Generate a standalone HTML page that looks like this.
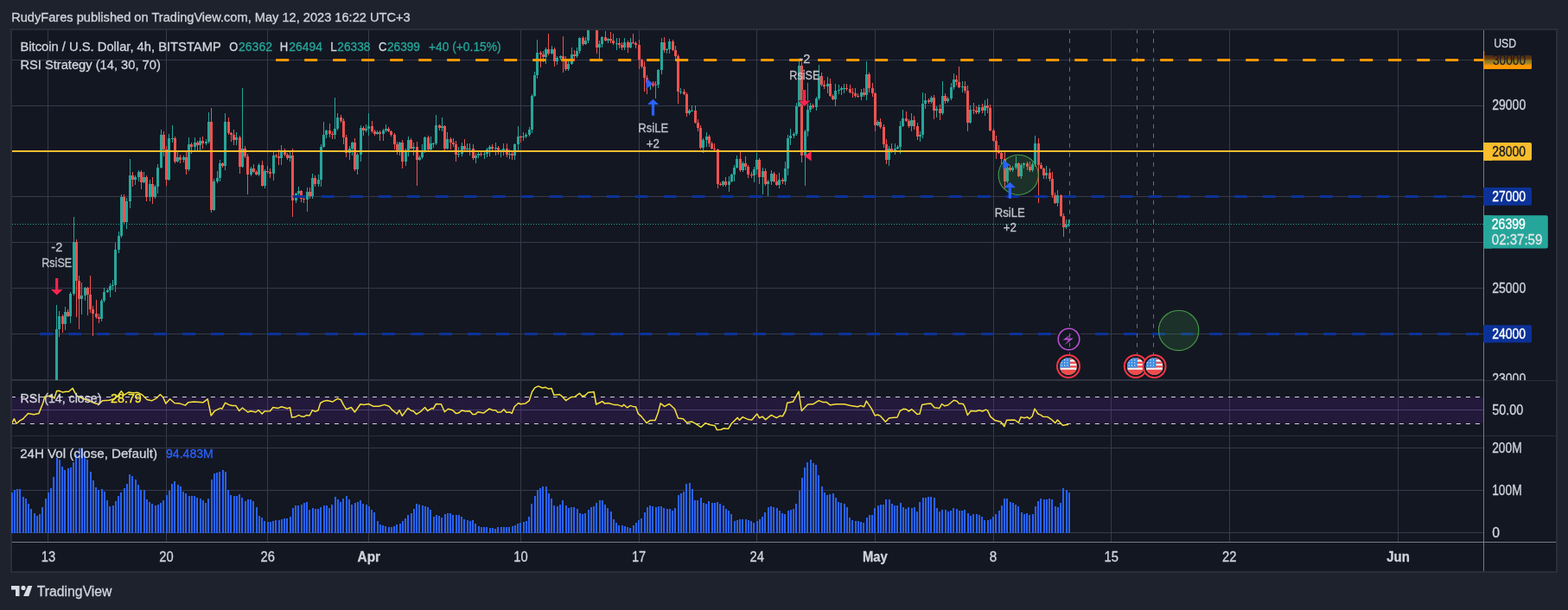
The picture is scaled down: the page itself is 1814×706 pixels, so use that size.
<!DOCTYPE html>
<html><head><meta charset="utf-8"><title>BTCUSD chart</title>
<style>html,body{margin:0;padding:0;background:#1e222d;}body{width:1814px;height:706px;overflow:hidden;}svg{display:block;}</style>
</head><body><svg width="1814" height="706" viewBox="0 0 1814 706" font-family="'Liberation Sans', Arial, sans-serif"><rect width="1814" height="706" fill="#1e222d"/><rect x="12" y="33" width="1790" height="630" fill="#2a2e39"/><rect x="14" y="35" width="1786" height="626" fill="#131722"/><text x="13.2" y="24.7" font-size="14.7" fill="#d1d4dc" text-anchor="start" font-weight="normal" textLength="461.5" lengthAdjust="spacingAndGlyphs" stroke="#d1d4dc" stroke-width="0.3">RudyFares published on TradingView.com, May 12, 2023 16:22 UTC+3</text><line x1="55.5" y1="35" x2="55.5" y2="627" stroke="#363a4a" stroke-width="1"/><line x1="192.5" y1="35" x2="192.5" y2="627" stroke="#363a4a" stroke-width="1"/><line x1="309.5" y1="35" x2="309.5" y2="627" stroke="#363a4a" stroke-width="1"/><line x1="426.5" y1="35" x2="426.5" y2="627" stroke="#363a4a" stroke-width="1"/><line x1="602.5" y1="35" x2="602.5" y2="627" stroke="#363a4a" stroke-width="1"/><line x1="739.5" y1="35" x2="739.5" y2="627" stroke="#363a4a" stroke-width="1"/><line x1="875.5" y1="35" x2="875.5" y2="627" stroke="#363a4a" stroke-width="1"/><line x1="1012.5" y1="35" x2="1012.5" y2="627" stroke="#363a4a" stroke-width="1"/><line x1="1149.5" y1="35" x2="1149.5" y2="627" stroke="#363a4a" stroke-width="1"/><line x1="1285.5" y1="35" x2="1285.5" y2="627" stroke="#363a4a" stroke-width="1"/><line x1="1422.5" y1="35" x2="1422.5" y2="627" stroke="#363a4a" stroke-width="1"/><line x1="1617.5" y1="35" x2="1617.5" y2="627" stroke="#363a4a" stroke-width="1"/><line x1="14" y1="69.5" x2="1716.5" y2="69.5" stroke="#363a4a" stroke-width="1"/><line x1="14" y1="122.5" x2="1716.5" y2="122.5" stroke="#363a4a" stroke-width="1"/><line x1="14" y1="175.5" x2="1716.5" y2="175.5" stroke="#363a4a" stroke-width="1"/><line x1="14" y1="227.5" x2="1716.5" y2="227.5" stroke="#363a4a" stroke-width="1"/><line x1="14" y1="280.5" x2="1716.5" y2="280.5" stroke="#363a4a" stroke-width="1"/><line x1="14" y1="333.5" x2="1716.5" y2="333.5" stroke="#363a4a" stroke-width="1"/><line x1="14" y1="386.5" x2="1716.5" y2="386.5" stroke="#363a4a" stroke-width="1"/><line x1="14" y1="439.5" x2="1716.5" y2="439.5" stroke="#363a4a" stroke-width="1"/><rect x="14" y="459.5" width="1702.5" height="30.5" fill="rgb(99,33,154)" fill-opacity="0.2"/><line x1="14" y1="518.5" x2="1716.5" y2="518.5" stroke="#363a4a" stroke-width="1"/><line x1="14" y1="567.5" x2="1716.5" y2="567.5" stroke="#363a4a" stroke-width="1"/><line x1="14" y1="616.5" x2="1716.5" y2="616.5" stroke="#363a4a" stroke-width="1"/><clipPath id="mp"><rect x="14" y="35" width="1702.5" height="405"/></clipPath><g clip-path="url(#mp)"><line x1="1237.5" y1="35" x2="1237.5" y2="410" stroke="#6a6d78" stroke-width="1" stroke-dasharray="5 6" stroke-dashoffset="1.2"/><line x1="1315.5" y1="35" x2="1315.5" y2="410" stroke="#6a6d78" stroke-width="1" stroke-dasharray="5 6" stroke-dashoffset="1.2"/><line x1="1334.5" y1="35" x2="1334.5" y2="410" stroke="#6a6d78" stroke-width="1" stroke-dasharray="5 6" stroke-dashoffset="1.2"/><rect x="65" y="353" width="1" height="109" fill="#26a69a"/><rect x="64" y="381" width="3" height="79" fill="#26a69a"/><rect x="68" y="360" width="1" height="30" fill="#26a69a"/><rect x="67" y="366" width="3" height="15" fill="#26a69a"/><rect x="72" y="364" width="1" height="21" fill="#ef5350"/><rect x="71" y="366" width="3" height="9" fill="#ef5350"/><rect x="75" y="355" width="1" height="27" fill="#26a69a"/><rect x="74" y="361" width="3" height="14" fill="#26a69a"/><rect x="78" y="358" width="1" height="9" fill="#ef5350"/><rect x="77" y="361" width="3" height="5" fill="#ef5350"/><rect x="81" y="338" width="1" height="36" fill="#26a69a"/><rect x="80" y="340" width="3" height="26" fill="#26a69a"/><rect x="85" y="251" width="1" height="91" fill="#26a69a"/><rect x="84" y="280" width="3" height="60" fill="#26a69a"/><rect x="88" y="277" width="1" height="90" fill="#ef5350"/><rect x="87" y="280" width="3" height="45" fill="#ef5350"/><rect x="91" y="319" width="1" height="62" fill="#ef5350"/><rect x="90" y="325" width="3" height="21" fill="#ef5350"/><rect x="94" y="327" width="1" height="37" fill="#26a69a"/><rect x="93" y="342" width="3" height="4" fill="#26a69a"/><rect x="98" y="332" width="1" height="16" fill="#26a69a"/><rect x="97" y="333" width="3" height="9" fill="#26a69a"/><rect x="101" y="332" width="1" height="33" fill="#ef5350"/><rect x="100" y="333" width="3" height="8" fill="#ef5350"/><rect x="104" y="319" width="1" height="43" fill="#ef5350"/><rect x="103" y="341" width="3" height="17" fill="#ef5350"/><rect x="107" y="354" width="1" height="35" fill="#ef5350"/><rect x="106" y="358" width="3" height="5" fill="#ef5350"/><rect x="111" y="347" width="1" height="22" fill="#ef5350"/><rect x="110" y="363" width="3" height="4" fill="#ef5350"/><rect x="114" y="363" width="1" height="11" fill="#ef5350"/><rect x="113" y="367" width="3" height="2" fill="#ef5350"/><rect x="117" y="346" width="1" height="26" fill="#26a69a"/><rect x="116" y="348" width="3" height="21" fill="#26a69a"/><rect x="120" y="333" width="1" height="17" fill="#26a69a"/><rect x="119" y="338" width="3" height="10" fill="#26a69a"/><rect x="124" y="334" width="1" height="5" fill="#26a69a"/><rect x="123" y="336" width="3" height="2" fill="#26a69a"/><rect x="127" y="328" width="1" height="16" fill="#26a69a"/><rect x="126" y="331" width="3" height="5" fill="#26a69a"/><rect x="130" y="324" width="1" height="12" fill="#26a69a"/><rect x="129" y="330" width="3" height="1" fill="#26a69a"/><rect x="133" y="281" width="1" height="57" fill="#26a69a"/><rect x="132" y="289" width="3" height="41" fill="#26a69a"/><rect x="137" y="268" width="1" height="25" fill="#26a69a"/><rect x="136" y="273" width="3" height="16" fill="#26a69a"/><rect x="140" y="225" width="1" height="50" fill="#26a69a"/><rect x="139" y="228" width="3" height="45" fill="#26a69a"/><rect x="143" y="225" width="1" height="34" fill="#ef5350"/><rect x="142" y="228" width="3" height="29" fill="#ef5350"/><rect x="146" y="229" width="1" height="36" fill="#26a69a"/><rect x="145" y="233" width="3" height="24" fill="#26a69a"/><rect x="150" y="184" width="1" height="57" fill="#26a69a"/><rect x="149" y="203" width="3" height="30" fill="#26a69a"/><rect x="153" y="199" width="1" height="17" fill="#ef5350"/><rect x="152" y="203" width="3" height="5" fill="#ef5350"/><rect x="156" y="203" width="1" height="11" fill="#26a69a"/><rect x="155" y="205" width="3" height="3" fill="#26a69a"/><rect x="160" y="197" width="1" height="13" fill="#26a69a"/><rect x="159" y="199" width="3" height="6" fill="#26a69a"/><rect x="163" y="197" width="1" height="22" fill="#ef5350"/><rect x="162" y="199" width="3" height="12" fill="#ef5350"/><rect x="166" y="199" width="1" height="13" fill="#26a69a"/><rect x="165" y="205" width="3" height="6" fill="#26a69a"/><rect x="169" y="203" width="1" height="30" fill="#ef5350"/><rect x="168" y="205" width="3" height="23" fill="#ef5350"/><rect x="173" y="208" width="1" height="25" fill="#26a69a"/><rect x="172" y="213" width="3" height="15" fill="#26a69a"/><rect x="176" y="205" width="1" height="31" fill="#ef5350"/><rect x="175" y="213" width="3" height="15" fill="#ef5350"/><rect x="179" y="214" width="1" height="16" fill="#26a69a"/><rect x="178" y="216" width="3" height="12" fill="#26a69a"/><rect x="182" y="190" width="1" height="34" fill="#26a69a"/><rect x="181" y="194" width="3" height="22" fill="#26a69a"/><rect x="186" y="150" width="1" height="45" fill="#26a69a"/><rect x="185" y="156" width="3" height="38" fill="#26a69a"/><rect x="189" y="152" width="1" height="29" fill="#ef5350"/><rect x="188" y="156" width="3" height="17" fill="#ef5350"/><rect x="192" y="169" width="1" height="46" fill="#ef5350"/><rect x="191" y="173" width="3" height="35" fill="#ef5350"/><rect x="195" y="155" width="1" height="54" fill="#26a69a"/><rect x="194" y="160" width="3" height="48" fill="#26a69a"/><rect x="199" y="145" width="1" height="20" fill="#26a69a"/><rect x="198" y="160" width="3" height="1" fill="#26a69a"/><rect x="202" y="158" width="1" height="31" fill="#ef5350"/><rect x="201" y="160" width="3" height="27" fill="#ef5350"/><rect x="205" y="174" width="1" height="14" fill="#26a69a"/><rect x="204" y="182" width="3" height="5" fill="#26a69a"/><rect x="208" y="179" width="1" height="10" fill="#ef5350"/><rect x="207" y="182" width="3" height="3" fill="#ef5350"/><rect x="212" y="180" width="1" height="8" fill="#26a69a"/><rect x="211" y="182" width="3" height="3" fill="#26a69a"/><rect x="215" y="176" width="1" height="26" fill="#ef5350"/><rect x="214" y="182" width="3" height="14" fill="#ef5350"/><rect x="218" y="159" width="1" height="39" fill="#26a69a"/><rect x="217" y="167" width="3" height="29" fill="#26a69a"/><rect x="221" y="165" width="1" height="13" fill="#ef5350"/><rect x="220" y="167" width="3" height="3" fill="#ef5350"/><rect x="225" y="159" width="1" height="15" fill="#26a69a"/><rect x="224" y="165" width="3" height="5" fill="#26a69a"/><rect x="228" y="163" width="1" height="11" fill="#ef5350"/><rect x="227" y="165" width="3" height="3" fill="#ef5350"/><rect x="231" y="159" width="1" height="15" fill="#26a69a"/><rect x="230" y="163" width="3" height="5" fill="#26a69a"/><rect x="234" y="158" width="1" height="14" fill="#ef5350"/><rect x="233" y="163" width="3" height="3" fill="#ef5350"/><rect x="238" y="161" width="1" height="7" fill="#26a69a"/><rect x="237" y="164" width="3" height="2" fill="#26a69a"/><rect x="241" y="130" width="1" height="36" fill="#26a69a"/><rect x="240" y="141" width="3" height="23" fill="#26a69a"/><rect x="244" y="125" width="1" height="121" fill="#ef5350"/><rect x="243" y="141" width="3" height="102" fill="#ef5350"/><rect x="247" y="207" width="1" height="37" fill="#26a69a"/><rect x="246" y="210" width="3" height="33" fill="#26a69a"/><rect x="251" y="198" width="1" height="14" fill="#26a69a"/><rect x="250" y="206" width="3" height="4" fill="#26a69a"/><rect x="254" y="185" width="1" height="25" fill="#26a69a"/><rect x="253" y="189" width="3" height="17" fill="#26a69a"/><rect x="257" y="188" width="1" height="6" fill="#ef5350"/><rect x="256" y="189" width="3" height="3" fill="#ef5350"/><rect x="260" y="131" width="1" height="66" fill="#26a69a"/><rect x="259" y="141" width="3" height="51" fill="#26a69a"/><rect x="264" y="136" width="1" height="20" fill="#ef5350"/><rect x="263" y="141" width="3" height="13" fill="#ef5350"/><rect x="267" y="153" width="1" height="11" fill="#ef5350"/><rect x="266" y="154" width="3" height="2" fill="#ef5350"/><rect x="270" y="150" width="1" height="18" fill="#ef5350"/><rect x="269" y="156" width="3" height="6" fill="#ef5350"/><rect x="273" y="153" width="1" height="15" fill="#26a69a"/><rect x="272" y="159" width="3" height="3" fill="#26a69a"/><rect x="277" y="157" width="1" height="44" fill="#ef5350"/><rect x="276" y="159" width="3" height="34" fill="#ef5350"/><rect x="280" y="102" width="1" height="92" fill="#26a69a"/><rect x="279" y="172" width="3" height="21" fill="#26a69a"/><rect x="283" y="169" width="1" height="14" fill="#ef5350"/><rect x="282" y="172" width="3" height="9" fill="#ef5350"/><rect x="286" y="178" width="1" height="47" fill="#ef5350"/><rect x="285" y="181" width="3" height="21" fill="#ef5350"/><rect x="290" y="193" width="1" height="11" fill="#26a69a"/><rect x="289" y="195" width="3" height="7" fill="#26a69a"/><rect x="293" y="190" width="1" height="10" fill="#ef5350"/><rect x="292" y="195" width="3" height="4" fill="#ef5350"/><rect x="296" y="197" width="1" height="6" fill="#ef5350"/><rect x="295" y="199" width="3" height="3" fill="#ef5350"/><rect x="299" y="189" width="1" height="15" fill="#26a69a"/><rect x="298" y="191" width="3" height="11" fill="#26a69a"/><rect x="303" y="186" width="1" height="30" fill="#ef5350"/><rect x="302" y="191" width="3" height="24" fill="#ef5350"/><rect x="306" y="196" width="1" height="22" fill="#26a69a"/><rect x="305" y="198" width="3" height="17" fill="#26a69a"/><rect x="309" y="192" width="1" height="9" fill="#ef5350"/><rect x="308" y="198" width="3" height="1" fill="#ef5350"/><rect x="312" y="195" width="1" height="11" fill="#ef5350"/><rect x="311" y="199" width="3" height="2" fill="#ef5350"/><rect x="316" y="175" width="1" height="34" fill="#26a69a"/><rect x="315" y="180" width="3" height="21" fill="#26a69a"/><rect x="319" y="178" width="1" height="5" fill="#ef5350"/><rect x="318" y="180" width="3" height="1" fill="#ef5350"/><rect x="322" y="173" width="1" height="18" fill="#ef5350"/><rect x="321" y="181" width="3" height="2" fill="#ef5350"/><rect x="325" y="168" width="1" height="23" fill="#26a69a"/><rect x="324" y="176" width="3" height="7" fill="#26a69a"/><rect x="329" y="172" width="1" height="9" fill="#ef5350"/><rect x="328" y="176" width="3" height="3" fill="#ef5350"/><rect x="332" y="177" width="1" height="8" fill="#ef5350"/><rect x="331" y="179" width="3" height="4" fill="#ef5350"/><rect x="335" y="175" width="1" height="12" fill="#26a69a"/><rect x="334" y="180" width="3" height="3" fill="#26a69a"/><rect x="338" y="172" width="1" height="79" fill="#ef5350"/><rect x="337" y="180" width="3" height="52" fill="#ef5350"/><rect x="342" y="223" width="1" height="12" fill="#26a69a"/><rect x="341" y="224" width="3" height="8" fill="#26a69a"/><rect x="345" y="216" width="1" height="10" fill="#26a69a"/><rect x="344" y="221" width="3" height="3" fill="#26a69a"/><rect x="348" y="220" width="1" height="14" fill="#ef5350"/><rect x="347" y="221" width="3" height="9" fill="#ef5350"/><rect x="351" y="228" width="1" height="7" fill="#ef5350"/><rect x="350" y="230" width="3" height="1" fill="#ef5350"/><rect x="355" y="217" width="1" height="28" fill="#26a69a"/><rect x="354" y="222" width="3" height="9" fill="#26a69a"/><rect x="358" y="217" width="1" height="13" fill="#ef5350"/><rect x="357" y="222" width="3" height="5" fill="#ef5350"/><rect x="361" y="201" width="1" height="29" fill="#26a69a"/><rect x="360" y="206" width="3" height="21" fill="#26a69a"/><rect x="364" y="203" width="1" height="13" fill="#ef5350"/><rect x="363" y="206" width="3" height="7" fill="#ef5350"/><rect x="368" y="202" width="1" height="14" fill="#26a69a"/><rect x="367" y="208" width="3" height="5" fill="#26a69a"/><rect x="371" y="167" width="1" height="49" fill="#26a69a"/><rect x="370" y="170" width="3" height="38" fill="#26a69a"/><rect x="374" y="141" width="1" height="30" fill="#26a69a"/><rect x="373" y="156" width="3" height="14" fill="#26a69a"/><rect x="377" y="150" width="1" height="10" fill="#26a69a"/><rect x="376" y="151" width="3" height="5" fill="#26a69a"/><rect x="381" y="143" width="1" height="16" fill="#ef5350"/><rect x="380" y="151" width="3" height="4" fill="#ef5350"/><rect x="384" y="152" width="1" height="9" fill="#ef5350"/><rect x="383" y="155" width="3" height="1" fill="#ef5350"/><rect x="387" y="113" width="1" height="48" fill="#26a69a"/><rect x="386" y="149" width="3" height="7" fill="#26a69a"/><rect x="390" y="131" width="1" height="20" fill="#26a69a"/><rect x="389" y="136" width="3" height="13" fill="#26a69a"/><rect x="394" y="133" width="1" height="9" fill="#ef5350"/><rect x="393" y="136" width="3" height="4" fill="#ef5350"/><rect x="397" y="137" width="1" height="30" fill="#ef5350"/><rect x="396" y="140" width="3" height="19" fill="#ef5350"/><rect x="400" y="156" width="1" height="26" fill="#ef5350"/><rect x="399" y="159" width="3" height="18" fill="#ef5350"/><rect x="404" y="169" width="1" height="16" fill="#26a69a"/><rect x="403" y="172" width="3" height="5" fill="#26a69a"/><rect x="407" y="164" width="1" height="16" fill="#26a69a"/><rect x="406" y="165" width="3" height="7" fill="#26a69a"/><rect x="410" y="160" width="1" height="38" fill="#ef5350"/><rect x="409" y="165" width="3" height="31" fill="#ef5350"/><rect x="413" y="177" width="1" height="25" fill="#26a69a"/><rect x="412" y="179" width="3" height="17" fill="#26a69a"/><rect x="417" y="145" width="1" height="42" fill="#26a69a"/><rect x="416" y="148" width="3" height="31" fill="#26a69a"/><rect x="420" y="146" width="1" height="11" fill="#ef5350"/><rect x="419" y="148" width="3" height="3" fill="#ef5350"/><rect x="423" y="144" width="1" height="9" fill="#26a69a"/><rect x="422" y="149" width="3" height="2" fill="#26a69a"/><rect x="426" y="131" width="1" height="26" fill="#26a69a"/><rect x="425" y="146" width="3" height="3" fill="#26a69a"/><rect x="430" y="140" width="1" height="14" fill="#ef5350"/><rect x="429" y="146" width="3" height="6" fill="#ef5350"/><rect x="433" y="150" width="1" height="7" fill="#ef5350"/><rect x="432" y="152" width="3" height="3" fill="#ef5350"/><rect x="436" y="151" width="1" height="5" fill="#26a69a"/><rect x="435" y="153" width="3" height="2" fill="#26a69a"/><rect x="439" y="151" width="1" height="12" fill="#ef5350"/><rect x="438" y="153" width="3" height="2" fill="#ef5350"/><rect x="443" y="149" width="1" height="14" fill="#26a69a"/><rect x="442" y="151" width="3" height="4" fill="#26a69a"/><rect x="446" y="144" width="1" height="9" fill="#26a69a"/><rect x="445" y="149" width="3" height="2" fill="#26a69a"/><rect x="449" y="147" width="1" height="6" fill="#ef5350"/><rect x="448" y="149" width="3" height="3" fill="#ef5350"/><rect x="452" y="151" width="1" height="7" fill="#ef5350"/><rect x="451" y="152" width="3" height="4" fill="#ef5350"/><rect x="456" y="154" width="1" height="19" fill="#ef5350"/><rect x="455" y="156" width="3" height="11" fill="#ef5350"/><rect x="459" y="164" width="1" height="15" fill="#ef5350"/><rect x="458" y="167" width="3" height="9" fill="#ef5350"/><rect x="462" y="164" width="1" height="16" fill="#26a69a"/><rect x="461" y="165" width="3" height="11" fill="#26a69a"/><rect x="465" y="162" width="1" height="33" fill="#ef5350"/><rect x="464" y="165" width="3" height="22" fill="#ef5350"/><rect x="469" y="172" width="1" height="20" fill="#26a69a"/><rect x="468" y="175" width="3" height="12" fill="#26a69a"/><rect x="472" y="158" width="1" height="23" fill="#26a69a"/><rect x="471" y="162" width="3" height="13" fill="#26a69a"/><rect x="475" y="160" width="1" height="13" fill="#ef5350"/><rect x="474" y="162" width="3" height="10" fill="#ef5350"/><rect x="478" y="165" width="1" height="15" fill="#26a69a"/><rect x="477" y="170" width="3" height="2" fill="#26a69a"/><rect x="482" y="164" width="1" height="51" fill="#ef5350"/><rect x="481" y="170" width="3" height="15" fill="#ef5350"/><rect x="485" y="180" width="1" height="6" fill="#26a69a"/><rect x="484" y="182" width="3" height="3" fill="#26a69a"/><rect x="488" y="167" width="1" height="17" fill="#26a69a"/><rect x="487" y="175" width="3" height="7" fill="#26a69a"/><rect x="491" y="158" width="1" height="19" fill="#26a69a"/><rect x="490" y="159" width="3" height="16" fill="#26a69a"/><rect x="495" y="157" width="1" height="18" fill="#ef5350"/><rect x="494" y="159" width="3" height="14" fill="#ef5350"/><rect x="498" y="158" width="1" height="17" fill="#26a69a"/><rect x="497" y="166" width="3" height="7" fill="#26a69a"/><rect x="501" y="165" width="1" height="6" fill="#26a69a"/><rect x="500" y="166" width="3" height="1" fill="#26a69a"/><rect x="504" y="133" width="1" height="35" fill="#26a69a"/><rect x="503" y="145" width="3" height="21" fill="#26a69a"/><rect x="508" y="144" width="1" height="7" fill="#ef5350"/><rect x="507" y="145" width="3" height="3" fill="#ef5350"/><rect x="511" y="136" width="1" height="16" fill="#26a69a"/><rect x="510" y="146" width="3" height="2" fill="#26a69a"/><rect x="514" y="145" width="1" height="29" fill="#ef5350"/><rect x="513" y="146" width="3" height="26" fill="#ef5350"/><rect x="517" y="153" width="1" height="20" fill="#26a69a"/><rect x="516" y="161" width="3" height="11" fill="#26a69a"/><rect x="521" y="159" width="1" height="14" fill="#ef5350"/><rect x="520" y="161" width="3" height="4" fill="#ef5350"/><rect x="524" y="160" width="1" height="10" fill="#ef5350"/><rect x="523" y="165" width="3" height="2" fill="#ef5350"/><rect x="527" y="163" width="1" height="24" fill="#ef5350"/><rect x="526" y="167" width="3" height="12" fill="#ef5350"/><rect x="530" y="170" width="1" height="12" fill="#26a69a"/><rect x="529" y="178" width="3" height="1" fill="#26a69a"/><rect x="534" y="165" width="1" height="16" fill="#26a69a"/><rect x="533" y="169" width="3" height="9" fill="#26a69a"/><rect x="537" y="161" width="1" height="14" fill="#ef5350"/><rect x="536" y="169" width="3" height="4" fill="#ef5350"/><rect x="540" y="166" width="1" height="9" fill="#26a69a"/><rect x="539" y="172" width="3" height="1" fill="#26a69a"/><rect x="543" y="166" width="1" height="14" fill="#26a69a"/><rect x="542" y="172" width="3" height="1" fill="#26a69a"/><rect x="547" y="167" width="1" height="18" fill="#ef5350"/><rect x="546" y="172" width="3" height="11" fill="#ef5350"/><rect x="550" y="177" width="1" height="12" fill="#26a69a"/><rect x="549" y="180" width="3" height="3" fill="#26a69a"/><rect x="553" y="176" width="1" height="7" fill="#26a69a"/><rect x="552" y="178" width="3" height="2" fill="#26a69a"/><rect x="556" y="174" width="1" height="7" fill="#ef5350"/><rect x="555" y="178" width="3" height="1" fill="#ef5350"/><rect x="560" y="176" width="1" height="8" fill="#26a69a"/><rect x="559" y="178" width="3" height="1" fill="#26a69a"/><rect x="563" y="171" width="1" height="11" fill="#26a69a"/><rect x="562" y="173" width="3" height="5" fill="#26a69a"/><rect x="566" y="168" width="1" height="13" fill="#26a69a"/><rect x="565" y="170" width="3" height="3" fill="#26a69a"/><rect x="569" y="167" width="1" height="7" fill="#ef5350"/><rect x="568" y="170" width="3" height="2" fill="#ef5350"/><rect x="573" y="165" width="1" height="15" fill="#26a69a"/><rect x="572" y="171" width="3" height="1" fill="#26a69a"/><rect x="576" y="169" width="1" height="10" fill="#ef5350"/><rect x="575" y="171" width="3" height="5" fill="#ef5350"/><rect x="579" y="173" width="1" height="9" fill="#26a69a"/><rect x="578" y="175" width="3" height="1" fill="#26a69a"/><rect x="582" y="166" width="1" height="14" fill="#26a69a"/><rect x="581" y="172" width="3" height="3" fill="#26a69a"/><rect x="586" y="166" width="1" height="16" fill="#ef5350"/><rect x="585" y="172" width="3" height="7" fill="#ef5350"/><rect x="589" y="173" width="1" height="11" fill="#26a69a"/><rect x="588" y="178" width="3" height="1" fill="#26a69a"/><rect x="592" y="176" width="1" height="9" fill="#ef5350"/><rect x="591" y="178" width="3" height="2" fill="#ef5350"/><rect x="595" y="166" width="1" height="19" fill="#26a69a"/><rect x="594" y="167" width="3" height="13" fill="#26a69a"/><rect x="599" y="146" width="1" height="29" fill="#26a69a"/><rect x="598" y="158" width="3" height="9" fill="#26a69a"/><rect x="602" y="157" width="1" height="8" fill="#ef5350"/><rect x="601" y="158" width="3" height="1" fill="#ef5350"/><rect x="605" y="153" width="1" height="10" fill="#26a69a"/><rect x="604" y="158" width="3" height="1" fill="#26a69a"/><rect x="608" y="154" width="1" height="6" fill="#26a69a"/><rect x="607" y="156" width="3" height="2" fill="#26a69a"/><rect x="612" y="147" width="1" height="11" fill="#26a69a"/><rect x="611" y="150" width="3" height="6" fill="#26a69a"/><rect x="615" y="109" width="1" height="45" fill="#26a69a"/><rect x="614" y="111" width="3" height="39" fill="#26a69a"/><rect x="618" y="83" width="1" height="29" fill="#26a69a"/><rect x="617" y="87" width="3" height="24" fill="#26a69a"/><rect x="621" y="46" width="1" height="45" fill="#26a69a"/><rect x="620" y="61" width="3" height="26" fill="#26a69a"/><rect x="625" y="59" width="1" height="19" fill="#ef5350"/><rect x="624" y="61" width="3" height="2" fill="#ef5350"/><rect x="628" y="59" width="1" height="13" fill="#ef5350"/><rect x="627" y="63" width="3" height="3" fill="#ef5350"/><rect x="631" y="55" width="1" height="19" fill="#26a69a"/><rect x="630" y="57" width="3" height="9" fill="#26a69a"/><rect x="634" y="39" width="1" height="25" fill="#ef5350"/><rect x="633" y="57" width="3" height="5" fill="#ef5350"/><rect x="638" y="53" width="1" height="10" fill="#26a69a"/><rect x="637" y="57" width="3" height="5" fill="#26a69a"/><rect x="641" y="55" width="1" height="22" fill="#ef5350"/><rect x="640" y="57" width="3" height="14" fill="#ef5350"/><rect x="644" y="65" width="1" height="10" fill="#26a69a"/><rect x="643" y="67" width="3" height="4" fill="#26a69a"/><rect x="648" y="64" width="1" height="5" fill="#26a69a"/><rect x="647" y="65" width="3" height="2" fill="#26a69a"/><rect x="651" y="42" width="1" height="42" fill="#ef5350"/><rect x="650" y="65" width="3" height="3" fill="#ef5350"/><rect x="654" y="65" width="1" height="17" fill="#ef5350"/><rect x="653" y="68" width="3" height="12" fill="#ef5350"/><rect x="657" y="70" width="1" height="12" fill="#26a69a"/><rect x="656" y="74" width="3" height="6" fill="#26a69a"/><rect x="661" y="55" width="1" height="20" fill="#26a69a"/><rect x="660" y="63" width="3" height="11" fill="#26a69a"/><rect x="664" y="58" width="1" height="13" fill="#ef5350"/><rect x="663" y="63" width="3" height="2" fill="#ef5350"/><rect x="667" y="55" width="1" height="12" fill="#26a69a"/><rect x="666" y="59" width="3" height="6" fill="#26a69a"/><rect x="670" y="43" width="1" height="19" fill="#26a69a"/><rect x="669" y="44" width="3" height="15" fill="#26a69a"/><rect x="674" y="42" width="1" height="11" fill="#ef5350"/><rect x="673" y="44" width="3" height="7" fill="#ef5350"/><rect x="677" y="43" width="1" height="9" fill="#26a69a"/><rect x="676" y="47" width="3" height="4" fill="#26a69a"/><rect x="680" y="26" width="1" height="24" fill="#26a69a"/><rect x="679" y="28" width="3" height="19" fill="#26a69a"/><rect x="683" y="14" width="1" height="18" fill="#26a69a"/><rect x="682" y="18" width="3" height="10" fill="#26a69a"/><rect x="687" y="15" width="1" height="9" fill="#ef5350"/><rect x="686" y="18" width="3" height="2" fill="#ef5350"/><rect x="690" y="12" width="1" height="50" fill="#ef5350"/><rect x="689" y="20" width="3" height="35" fill="#ef5350"/><rect x="693" y="47" width="1" height="21" fill="#26a69a"/><rect x="692" y="51" width="3" height="4" fill="#26a69a"/><rect x="696" y="42" width="1" height="13" fill="#26a69a"/><rect x="695" y="43" width="3" height="8" fill="#26a69a"/><rect x="700" y="36" width="1" height="12" fill="#ef5350"/><rect x="699" y="43" width="3" height="4" fill="#ef5350"/><rect x="703" y="44" width="1" height="6" fill="#26a69a"/><rect x="702" y="45" width="3" height="2" fill="#26a69a"/><rect x="706" y="37" width="1" height="13" fill="#ef5350"/><rect x="705" y="45" width="3" height="2" fill="#ef5350"/><rect x="709" y="39" width="1" height="13" fill="#ef5350"/><rect x="708" y="47" width="3" height="3" fill="#ef5350"/><rect x="713" y="44" width="1" height="14" fill="#26a69a"/><rect x="712" y="50" width="3" height="1" fill="#26a69a"/><rect x="716" y="44" width="1" height="12" fill="#ef5350"/><rect x="715" y="50" width="3" height="2" fill="#ef5350"/><rect x="719" y="49" width="1" height="9" fill="#ef5350"/><rect x="718" y="52" width="3" height="3" fill="#ef5350"/><rect x="722" y="44" width="1" height="14" fill="#26a69a"/><rect x="721" y="49" width="3" height="6" fill="#26a69a"/><rect x="726" y="47" width="1" height="14" fill="#ef5350"/><rect x="725" y="49" width="3" height="6" fill="#ef5350"/><rect x="729" y="44" width="1" height="12" fill="#26a69a"/><rect x="728" y="49" width="3" height="6" fill="#26a69a"/><rect x="732" y="39" width="1" height="12" fill="#ef5350"/><rect x="731" y="49" width="3" height="1" fill="#ef5350"/><rect x="735" y="48" width="1" height="8" fill="#ef5350"/><rect x="734" y="50" width="3" height="2" fill="#ef5350"/><rect x="739" y="46" width="1" height="34" fill="#ef5350"/><rect x="738" y="52" width="3" height="17" fill="#ef5350"/><rect x="742" y="68" width="1" height="11" fill="#ef5350"/><rect x="741" y="69" width="3" height="8" fill="#ef5350"/><rect x="745" y="71" width="1" height="35" fill="#ef5350"/><rect x="744" y="77" width="3" height="13" fill="#ef5350"/><rect x="748" y="87" width="1" height="22" fill="#ef5350"/><rect x="747" y="90" width="3" height="6" fill="#ef5350"/><rect x="752" y="95" width="1" height="9" fill="#26a69a"/><rect x="751" y="96" width="3" height="1" fill="#26a69a"/><rect x="755" y="94" width="1" height="7" fill="#ef5350"/><rect x="754" y="96" width="3" height="3" fill="#ef5350"/><rect x="758" y="94" width="1" height="20" fill="#26a69a"/><rect x="757" y="98" width="3" height="1" fill="#26a69a"/><rect x="761" y="80" width="1" height="22" fill="#26a69a"/><rect x="760" y="81" width="3" height="17" fill="#26a69a"/><rect x="765" y="44" width="1" height="42" fill="#26a69a"/><rect x="764" y="49" width="3" height="32" fill="#26a69a"/><rect x="768" y="43" width="1" height="18" fill="#ef5350"/><rect x="767" y="49" width="3" height="9" fill="#ef5350"/><rect x="771" y="56" width="1" height="6" fill="#26a69a"/><rect x="770" y="57" width="3" height="1" fill="#26a69a"/><rect x="774" y="45" width="1" height="17" fill="#26a69a"/><rect x="773" y="48" width="3" height="9" fill="#26a69a"/><rect x="778" y="46" width="1" height="13" fill="#ef5350"/><rect x="777" y="48" width="3" height="10" fill="#ef5350"/><rect x="781" y="53" width="1" height="18" fill="#ef5350"/><rect x="780" y="58" width="3" height="7" fill="#ef5350"/><rect x="784" y="63" width="1" height="57" fill="#ef5350"/><rect x="783" y="65" width="3" height="41" fill="#ef5350"/><rect x="787" y="102" width="1" height="7" fill="#26a69a"/><rect x="786" y="106" width="3" height="1" fill="#26a69a"/><rect x="791" y="103" width="1" height="7" fill="#ef5350"/><rect x="790" y="106" width="3" height="3" fill="#ef5350"/><rect x="794" y="107" width="1" height="28" fill="#ef5350"/><rect x="793" y="109" width="3" height="22" fill="#ef5350"/><rect x="797" y="126" width="1" height="7" fill="#26a69a"/><rect x="796" y="128" width="3" height="3" fill="#26a69a"/><rect x="800" y="122" width="1" height="7" fill="#26a69a"/><rect x="799" y="128" width="3" height="1" fill="#26a69a"/><rect x="804" y="122" width="1" height="21" fill="#ef5350"/><rect x="803" y="128" width="3" height="14" fill="#ef5350"/><rect x="807" y="138" width="1" height="14" fill="#ef5350"/><rect x="806" y="142" width="3" height="6" fill="#ef5350"/><rect x="810" y="145" width="1" height="28" fill="#ef5350"/><rect x="809" y="148" width="3" height="23" fill="#ef5350"/><rect x="813" y="160" width="1" height="17" fill="#26a69a"/><rect x="812" y="162" width="3" height="9" fill="#26a69a"/><rect x="817" y="153" width="1" height="17" fill="#26a69a"/><rect x="816" y="158" width="3" height="4" fill="#26a69a"/><rect x="820" y="156" width="1" height="14" fill="#ef5350"/><rect x="819" y="158" width="3" height="8" fill="#ef5350"/><rect x="823" y="164" width="1" height="9" fill="#ef5350"/><rect x="822" y="166" width="3" height="6" fill="#ef5350"/><rect x="826" y="166" width="1" height="9" fill="#ef5350"/><rect x="825" y="172" width="3" height="1" fill="#ef5350"/><rect x="830" y="172" width="1" height="46" fill="#ef5350"/><rect x="829" y="173" width="3" height="40" fill="#ef5350"/><rect x="833" y="211" width="1" height="4" fill="#ef5350"/><rect x="832" y="213" width="3" height="1" fill="#ef5350"/><rect x="836" y="209" width="1" height="7" fill="#26a69a"/><rect x="835" y="210" width="3" height="4" fill="#26a69a"/><rect x="839" y="205" width="1" height="11" fill="#ef5350"/><rect x="838" y="210" width="3" height="4" fill="#ef5350"/><rect x="843" y="204" width="1" height="18" fill="#26a69a"/><rect x="842" y="210" width="3" height="4" fill="#26a69a"/><rect x="846" y="201" width="1" height="10" fill="#26a69a"/><rect x="845" y="202" width="3" height="8" fill="#26a69a"/><rect x="849" y="191" width="1" height="19" fill="#26a69a"/><rect x="848" y="194" width="3" height="8" fill="#26a69a"/><rect x="852" y="180" width="1" height="15" fill="#26a69a"/><rect x="851" y="184" width="3" height="10" fill="#26a69a"/><rect x="856" y="176" width="1" height="23" fill="#ef5350"/><rect x="855" y="184" width="3" height="13" fill="#ef5350"/><rect x="859" y="187" width="1" height="12" fill="#26a69a"/><rect x="858" y="189" width="3" height="8" fill="#26a69a"/><rect x="862" y="181" width="1" height="16" fill="#ef5350"/><rect x="861" y="189" width="3" height="4" fill="#ef5350"/><rect x="865" y="191" width="1" height="15" fill="#ef5350"/><rect x="864" y="193" width="3" height="9" fill="#ef5350"/><rect x="869" y="199" width="1" height="7" fill="#ef5350"/><rect x="868" y="202" width="3" height="1" fill="#ef5350"/><rect x="872" y="193" width="1" height="18" fill="#26a69a"/><rect x="871" y="196" width="3" height="7" fill="#26a69a"/><rect x="875" y="177" width="1" height="25" fill="#26a69a"/><rect x="874" y="185" width="3" height="11" fill="#26a69a"/><rect x="878" y="183" width="1" height="30" fill="#ef5350"/><rect x="877" y="185" width="3" height="20" fill="#ef5350"/><rect x="882" y="194" width="1" height="31" fill="#26a69a"/><rect x="881" y="198" width="3" height="7" fill="#26a69a"/><rect x="885" y="195" width="1" height="20" fill="#ef5350"/><rect x="884" y="198" width="3" height="15" fill="#ef5350"/><rect x="888" y="208" width="1" height="19" fill="#26a69a"/><rect x="887" y="210" width="3" height="3" fill="#26a69a"/><rect x="892" y="197" width="1" height="17" fill="#26a69a"/><rect x="891" y="201" width="3" height="9" fill="#26a69a"/><rect x="895" y="199" width="1" height="12" fill="#ef5350"/><rect x="894" y="201" width="3" height="9" fill="#ef5350"/><rect x="898" y="202" width="1" height="13" fill="#ef5350"/><rect x="897" y="210" width="3" height="4" fill="#ef5350"/><rect x="901" y="200" width="1" height="18" fill="#26a69a"/><rect x="900" y="208" width="3" height="6" fill="#26a69a"/><rect x="905" y="206" width="1" height="7" fill="#ef5350"/><rect x="904" y="208" width="3" height="2" fill="#ef5350"/><rect x="908" y="187" width="1" height="27" fill="#26a69a"/><rect x="907" y="195" width="3" height="15" fill="#26a69a"/><rect x="911" y="156" width="1" height="47" fill="#26a69a"/><rect x="910" y="160" width="3" height="35" fill="#26a69a"/><rect x="914" y="149" width="1" height="19" fill="#26a69a"/><rect x="913" y="157" width="3" height="3" fill="#26a69a"/><rect x="918" y="153" width="1" height="7" fill="#26a69a"/><rect x="917" y="155" width="3" height="2" fill="#26a69a"/><rect x="921" y="119" width="1" height="38" fill="#26a69a"/><rect x="920" y="123" width="3" height="32" fill="#26a69a"/><rect x="924" y="68" width="1" height="56" fill="#26a69a"/><rect x="923" y="76" width="3" height="47" fill="#26a69a"/><rect x="927" y="72" width="1" height="116" fill="#ef5350"/><rect x="926" y="76" width="3" height="104" fill="#ef5350"/><rect x="931" y="150" width="1" height="65" fill="#26a69a"/><rect x="930" y="152" width="3" height="28" fill="#26a69a"/><rect x="934" y="96" width="1" height="62" fill="#26a69a"/><rect x="933" y="127" width="3" height="25" fill="#26a69a"/><rect x="937" y="119" width="1" height="11" fill="#26a69a"/><rect x="936" y="122" width="3" height="5" fill="#26a69a"/><rect x="940" y="120" width="1" height="6" fill="#ef5350"/><rect x="939" y="122" width="3" height="2" fill="#ef5350"/><rect x="944" y="112" width="1" height="16" fill="#26a69a"/><rect x="943" y="114" width="3" height="10" fill="#26a69a"/><rect x="947" y="75" width="1" height="41" fill="#26a69a"/><rect x="946" y="88" width="3" height="26" fill="#26a69a"/><rect x="950" y="84" width="1" height="16" fill="#ef5350"/><rect x="949" y="88" width="3" height="10" fill="#ef5350"/><rect x="953" y="93" width="1" height="10" fill="#ef5350"/><rect x="952" y="98" width="3" height="2" fill="#ef5350"/><rect x="957" y="89" width="1" height="19" fill="#26a69a"/><rect x="956" y="97" width="3" height="3" fill="#26a69a"/><rect x="960" y="91" width="1" height="21" fill="#ef5350"/><rect x="959" y="97" width="3" height="14" fill="#ef5350"/><rect x="963" y="109" width="1" height="7" fill="#ef5350"/><rect x="962" y="111" width="3" height="4" fill="#ef5350"/><rect x="966" y="97" width="1" height="26" fill="#26a69a"/><rect x="965" y="105" width="3" height="10" fill="#26a69a"/><rect x="970" y="98" width="1" height="11" fill="#26a69a"/><rect x="969" y="104" width="3" height="1" fill="#26a69a"/><rect x="973" y="100" width="1" height="10" fill="#26a69a"/><rect x="972" y="102" width="3" height="2" fill="#26a69a"/><rect x="976" y="97" width="1" height="11" fill="#26a69a"/><rect x="975" y="102" width="3" height="1" fill="#26a69a"/><rect x="979" y="97" width="1" height="8" fill="#ef5350"/><rect x="978" y="102" width="3" height="1" fill="#ef5350"/><rect x="983" y="98" width="1" height="10" fill="#ef5350"/><rect x="982" y="103" width="3" height="4" fill="#ef5350"/><rect x="986" y="102" width="1" height="11" fill="#ef5350"/><rect x="985" y="107" width="3" height="1" fill="#ef5350"/><rect x="989" y="102" width="1" height="11" fill="#ef5350"/><rect x="988" y="108" width="3" height="3" fill="#ef5350"/><rect x="992" y="108" width="1" height="5" fill="#ef5350"/><rect x="991" y="111" width="3" height="1" fill="#ef5350"/><rect x="996" y="103" width="1" height="13" fill="#26a69a"/><rect x="995" y="107" width="3" height="5" fill="#26a69a"/><rect x="999" y="102" width="1" height="10" fill="#ef5350"/><rect x="998" y="107" width="3" height="3" fill="#ef5350"/><rect x="1002" y="71" width="1" height="45" fill="#26a69a"/><rect x="1001" y="86" width="3" height="24" fill="#26a69a"/><rect x="1005" y="84" width="1" height="23" fill="#ef5350"/><rect x="1004" y="86" width="3" height="16" fill="#ef5350"/><rect x="1009" y="96" width="1" height="16" fill="#ef5350"/><rect x="1008" y="102" width="3" height="6" fill="#ef5350"/><rect x="1012" y="107" width="1" height="45" fill="#ef5350"/><rect x="1011" y="108" width="3" height="37" fill="#ef5350"/><rect x="1015" y="139" width="1" height="7" fill="#26a69a"/><rect x="1014" y="141" width="3" height="4" fill="#26a69a"/><rect x="1018" y="137" width="1" height="12" fill="#ef5350"/><rect x="1017" y="141" width="3" height="6" fill="#ef5350"/><rect x="1022" y="144" width="1" height="27" fill="#ef5350"/><rect x="1021" y="147" width="3" height="20" fill="#ef5350"/><rect x="1025" y="161" width="1" height="29" fill="#ef5350"/><rect x="1024" y="167" width="3" height="18" fill="#ef5350"/><rect x="1028" y="169" width="1" height="23" fill="#26a69a"/><rect x="1027" y="172" width="3" height="13" fill="#26a69a"/><rect x="1031" y="166" width="1" height="11" fill="#ef5350"/><rect x="1030" y="172" width="3" height="4" fill="#ef5350"/><rect x="1035" y="166" width="1" height="13" fill="#26a69a"/><rect x="1034" y="172" width="3" height="4" fill="#26a69a"/><rect x="1038" y="168" width="1" height="5" fill="#26a69a"/><rect x="1037" y="170" width="3" height="2" fill="#26a69a"/><rect x="1041" y="140" width="1" height="38" fill="#26a69a"/><rect x="1040" y="146" width="3" height="24" fill="#26a69a"/><rect x="1044" y="127" width="1" height="20" fill="#26a69a"/><rect x="1043" y="137" width="3" height="9" fill="#26a69a"/><rect x="1048" y="129" width="1" height="12" fill="#ef5350"/><rect x="1047" y="137" width="3" height="3" fill="#ef5350"/><rect x="1051" y="138" width="1" height="10" fill="#ef5350"/><rect x="1050" y="140" width="3" height="6" fill="#ef5350"/><rect x="1054" y="131" width="1" height="21" fill="#26a69a"/><rect x="1053" y="139" width="3" height="7" fill="#26a69a"/><rect x="1057" y="134" width="1" height="16" fill="#ef5350"/><rect x="1056" y="139" width="3" height="7" fill="#ef5350"/><rect x="1061" y="142" width="1" height="20" fill="#ef5350"/><rect x="1060" y="146" width="3" height="12" fill="#ef5350"/><rect x="1064" y="152" width="1" height="12" fill="#26a69a"/><rect x="1063" y="156" width="3" height="2" fill="#26a69a"/><rect x="1067" y="107" width="1" height="53" fill="#26a69a"/><rect x="1066" y="120" width="3" height="36" fill="#26a69a"/><rect x="1070" y="108" width="1" height="18" fill="#26a69a"/><rect x="1069" y="116" width="3" height="4" fill="#26a69a"/><rect x="1074" y="114" width="1" height="6" fill="#ef5350"/><rect x="1073" y="116" width="3" height="2" fill="#ef5350"/><rect x="1077" y="111" width="1" height="9" fill="#26a69a"/><rect x="1076" y="113" width="3" height="5" fill="#26a69a"/><rect x="1080" y="110" width="1" height="28" fill="#ef5350"/><rect x="1079" y="113" width="3" height="15" fill="#ef5350"/><rect x="1083" y="123" width="1" height="13" fill="#26a69a"/><rect x="1082" y="126" width="3" height="2" fill="#26a69a"/><rect x="1087" y="121" width="1" height="18" fill="#ef5350"/><rect x="1086" y="126" width="3" height="5" fill="#ef5350"/><rect x="1090" y="94" width="1" height="39" fill="#26a69a"/><rect x="1089" y="111" width="3" height="20" fill="#26a69a"/><rect x="1093" y="108" width="1" height="12" fill="#ef5350"/><rect x="1092" y="111" width="3" height="6" fill="#ef5350"/><rect x="1096" y="112" width="1" height="7" fill="#26a69a"/><rect x="1095" y="114" width="3" height="3" fill="#26a69a"/><rect x="1100" y="96" width="1" height="20" fill="#26a69a"/><rect x="1099" y="101" width="3" height="13" fill="#26a69a"/><rect x="1103" y="85" width="1" height="19" fill="#26a69a"/><rect x="1102" y="92" width="3" height="9" fill="#26a69a"/><rect x="1106" y="87" width="1" height="12" fill="#ef5350"/><rect x="1105" y="92" width="3" height="3" fill="#ef5350"/><rect x="1109" y="77" width="1" height="25" fill="#ef5350"/><rect x="1108" y="95" width="3" height="6" fill="#ef5350"/><rect x="1113" y="94" width="1" height="13" fill="#26a69a"/><rect x="1112" y="100" width="3" height="1" fill="#26a69a"/><rect x="1116" y="94" width="1" height="14" fill="#ef5350"/><rect x="1115" y="100" width="3" height="5" fill="#ef5350"/><rect x="1119" y="99" width="1" height="53" fill="#ef5350"/><rect x="1118" y="105" width="3" height="37" fill="#ef5350"/><rect x="1122" y="122" width="1" height="21" fill="#26a69a"/><rect x="1121" y="127" width="3" height="15" fill="#26a69a"/><rect x="1126" y="119" width="1" height="13" fill="#ef5350"/><rect x="1125" y="127" width="3" height="1" fill="#ef5350"/><rect x="1129" y="123" width="1" height="9" fill="#ef5350"/><rect x="1128" y="128" width="3" height="2" fill="#ef5350"/><rect x="1132" y="121" width="1" height="11" fill="#26a69a"/><rect x="1131" y="124" width="3" height="6" fill="#26a69a"/><rect x="1136" y="120" width="1" height="11" fill="#ef5350"/><rect x="1135" y="124" width="3" height="4" fill="#ef5350"/><rect x="1139" y="116" width="1" height="18" fill="#26a69a"/><rect x="1138" y="122" width="3" height="6" fill="#26a69a"/><rect x="1142" y="114" width="1" height="17" fill="#ef5350"/><rect x="1141" y="122" width="3" height="3" fill="#ef5350"/><rect x="1145" y="121" width="1" height="31" fill="#ef5350"/><rect x="1144" y="125" width="3" height="26" fill="#ef5350"/><rect x="1149" y="149" width="1" height="15" fill="#ef5350"/><rect x="1148" y="151" width="3" height="12" fill="#ef5350"/><rect x="1152" y="157" width="1" height="27" fill="#ef5350"/><rect x="1151" y="163" width="3" height="13" fill="#ef5350"/><rect x="1155" y="168" width="1" height="10" fill="#ef5350"/><rect x="1154" y="176" width="3" height="1" fill="#ef5350"/><rect x="1158" y="175" width="1" height="15" fill="#ef5350"/><rect x="1157" y="177" width="3" height="7" fill="#ef5350"/><rect x="1162" y="176" width="1" height="42" fill="#ef5350"/><rect x="1161" y="184" width="3" height="26" fill="#ef5350"/><rect x="1165" y="191" width="1" height="21" fill="#26a69a"/><rect x="1164" y="194" width="3" height="16" fill="#26a69a"/><rect x="1168" y="191" width="1" height="8" fill="#ef5350"/><rect x="1167" y="194" width="3" height="3" fill="#ef5350"/><rect x="1171" y="192" width="1" height="7" fill="#26a69a"/><rect x="1170" y="194" width="3" height="3" fill="#26a69a"/><rect x="1175" y="181" width="1" height="15" fill="#26a69a"/><rect x="1174" y="189" width="3" height="5" fill="#26a69a"/><rect x="1178" y="188" width="1" height="17" fill="#ef5350"/><rect x="1177" y="189" width="3" height="15" fill="#ef5350"/><rect x="1181" y="189" width="1" height="18" fill="#26a69a"/><rect x="1180" y="191" width="3" height="13" fill="#26a69a"/><rect x="1184" y="188" width="1" height="7" fill="#26a69a"/><rect x="1183" y="189" width="3" height="2" fill="#26a69a"/><rect x="1188" y="187" width="1" height="10" fill="#ef5350"/><rect x="1187" y="189" width="3" height="4" fill="#ef5350"/><rect x="1191" y="187" width="1" height="12" fill="#ef5350"/><rect x="1190" y="193" width="3" height="4" fill="#ef5350"/><rect x="1194" y="188" width="1" height="11" fill="#26a69a"/><rect x="1193" y="190" width="3" height="7" fill="#26a69a"/><rect x="1197" y="157" width="1" height="36" fill="#26a69a"/><rect x="1196" y="166" width="3" height="24" fill="#26a69a"/><rect x="1201" y="160" width="1" height="75" fill="#ef5350"/><rect x="1200" y="166" width="3" height="25" fill="#ef5350"/><rect x="1204" y="188" width="1" height="8" fill="#ef5350"/><rect x="1203" y="191" width="3" height="4" fill="#ef5350"/><rect x="1207" y="194" width="1" height="13" fill="#ef5350"/><rect x="1206" y="195" width="3" height="8" fill="#ef5350"/><rect x="1210" y="192" width="1" height="15" fill="#26a69a"/><rect x="1209" y="200" width="3" height="3" fill="#26a69a"/><rect x="1214" y="195" width="1" height="15" fill="#ef5350"/><rect x="1213" y="200" width="3" height="7" fill="#ef5350"/><rect x="1217" y="199" width="1" height="30" fill="#ef5350"/><rect x="1216" y="207" width="3" height="19" fill="#ef5350"/><rect x="1220" y="223" width="1" height="13" fill="#ef5350"/><rect x="1219" y="226" width="3" height="9" fill="#ef5350"/><rect x="1223" y="220" width="1" height="19" fill="#26a69a"/><rect x="1222" y="226" width="3" height="9" fill="#26a69a"/><rect x="1227" y="225" width="1" height="26" fill="#ef5350"/><rect x="1226" y="226" width="3" height="24" fill="#ef5350"/><rect x="1230" y="247" width="1" height="27" fill="#ef5350"/><rect x="1229" y="250" width="3" height="13" fill="#ef5350"/><rect x="1233" y="254" width="1" height="11" fill="#26a69a"/><rect x="1232" y="260" width="3" height="3" fill="#26a69a"/><rect x="1236" y="254" width="1" height="9" fill="#26a69a"/><rect x="1235" y="260" width="3" height="1" fill="#26a69a"/><line x1="319.2" y1="69.5" x2="1716.5" y2="69.5" stroke="#ff9800" stroke-width="3" stroke-dasharray="15 18"/><line x1="338.7" y1="227.5" x2="1716.5" y2="227.5" stroke="#0c3299" stroke-width="3" stroke-dasharray="15 18"/><line x1="46" y1="386.5" x2="1716.5" y2="386.5" stroke="#0c3299" stroke-width="3" stroke-dasharray="15 18"/><line x1="14" y1="175" x2="1716.5" y2="175" stroke="#f9bd2d" stroke-width="2"/><line x1="14" y1="259.5" x2="1716.5" y2="259.5" stroke="#26a69a" stroke-width="1" stroke-dasharray="1 2"/><circle cx="1178.2" cy="202.4" r="23.1" fill="#4caf50" fill-opacity="0.17" stroke="#4caf50" stroke-opacity="0.85" stroke-width="1.1"/><circle cx="1363.6" cy="382.4" r="23.2" fill="#4caf50" fill-opacity="0.17" stroke="#4caf50" stroke-opacity="0.85" stroke-width="1.1"/></g><text x="65.8" y="291" font-size="15.3" fill="#c0c3cb" text-anchor="middle" font-weight="normal" textLength="13" lengthAdjust="spacingAndGlyphs" stroke="#c0c3cb" stroke-width="0.3">-2</text><text x="65.7" y="309" font-size="15.3" fill="#c0c3cb" text-anchor="middle" font-weight="normal" textLength="35" lengthAdjust="spacingAndGlyphs" stroke="#c0c3cb" stroke-width="0.3">RsiSE</text><path d="M64.10000000000001,322 H67.3 V335 H72.5 L65.7,341.6 L58.900000000000006,335 H64.10000000000001 Z" fill="#f9244d" stroke="#131722" stroke-width="1" stroke-linejoin="miter" paint-order="stroke"/><text x="930.8" y="73" font-size="15.3" fill="#c0c3cb" text-anchor="middle" font-weight="normal" textLength="13" lengthAdjust="spacingAndGlyphs" stroke="#c0c3cb" stroke-width="0.3">-2</text><text x="930.8" y="91.6" font-size="15.3" fill="#c0c3cb" text-anchor="middle" font-weight="normal" textLength="35" lengthAdjust="spacingAndGlyphs" stroke="#c0c3cb" stroke-width="0.3">RsiSE</text><path d="M929.0,104 H932.2 V116.5 H937.4 L930.6,123.1 L923.8000000000001,116.5 H929.0 Z" fill="#f9244d" stroke="#131722" stroke-width="1" stroke-linejoin="miter" paint-order="stroke"/><polygon points="930.4,180.6 938.6,175.1 938.6,186.4" fill="#f9244d"/><polygon points="748.9,121 762.1,121 755.5,114.7" fill="#2962ff"/><rect x="753.9" y="121" width="3.2" height="12.800000000000011" fill="#2962ff"/><text x="755.7" y="153" font-size="15.3" fill="#c0c3cb" text-anchor="middle" font-weight="normal" textLength="35" lengthAdjust="spacingAndGlyphs" stroke="#c0c3cb" stroke-width="0.3">RsiLE</text><text x="755.4" y="170.7" font-size="15.3" fill="#c0c3cb" text-anchor="middle" font-weight="normal" textLength="15.2" lengthAdjust="spacingAndGlyphs" stroke="#c0c3cb" stroke-width="0.3">+2</text><polygon points="747.6,90.6 755.4,96.8 747.6,103" fill="#2962ff"/><polygon points="754.5,97 757.5,95 757.5,99" fill="#f9244d"/><polygon points="1161.7,217.2 1174.8999999999999,217.2 1168.3,210.7" fill="#2962ff"/><rect x="1166.7" y="217.2" width="3.2" height="12.5" fill="#2962ff"/><text x="1168.2" y="250.8" font-size="15.3" fill="#c0c3cb" text-anchor="middle" font-weight="normal" textLength="35" lengthAdjust="spacingAndGlyphs" stroke="#c0c3cb" stroke-width="0.3">RsiLE</text><text x="1168.3" y="268" font-size="15.3" fill="#c0c3cb" text-anchor="middle" font-weight="normal" textLength="15.2" lengthAdjust="spacingAndGlyphs" stroke="#c0c3cb" stroke-width="0.3">+2</text><polygon points="1160.4,184.8 1168.4,190.7 1160.4,196.6" fill="#2962ff"/><circle cx="1236.5" cy="392.6" r="15" fill="#131722"/><circle cx="1236.5" cy="392.6" r="12.3" fill="#131722" stroke="#b84fd0" stroke-width="1.6"/><clipPath id="lc"><circle cx="1236.5" cy="392.6" r="11.3"/></clipPath><line clip-path="url(#lc)" x1="1237.5" y1="35" x2="1237.5" y2="410" stroke="#6a6d78" stroke-width="1" stroke-dasharray="5 6" stroke-dashoffset="1.2"/><path d="M1240.6,385.8 L1234.4,391.6 L1241.8,391.6 L1231.5,399.6 L1236.2,393.4 L1229.4,393.4 Z" fill="#b84fd0"/><circle cx="1236" cy="424" r="13" fill="#131722" stroke="#f23645" stroke-width="2"/><clipPath id="fl1236"><circle cx="1236" cy="424" r="10"/></clipPath><g clip-path="url(#fl1236)"><rect x="1226" y="414" width="20" height="20" fill="#f5f5f5"/><rect x="1226" y="414.0" width="20" height="2.3" fill="#ef4b4b"/><rect x="1226" y="418.6" width="20" height="2.3" fill="#ef4b4b"/><rect x="1226" y="423.2" width="20" height="2.3" fill="#ef4b4b"/><rect x="1226" y="427.8" width="20" height="2.3" fill="#ef4b4b"/><rect x="1226" y="432.4" width="20" height="2.3" fill="#ef4b4b"/><rect x="1226" y="430" width="20" height="4" fill="#ef4b4b"/><rect x="1226" y="414" width="12" height="11.5" fill="#3d8de0"/><rect x="1227.7" y="416.0" width="1.2" height="1.2" fill="#e8eef8"/><rect x="1231.0" y="416.0" width="1.2" height="1.2" fill="#e8eef8"/><rect x="1234.3" y="416.0" width="1.2" height="1.2" fill="#e8eef8"/><rect x="1227.7" y="419.2" width="1.2" height="1.2" fill="#e8eef8"/><rect x="1231.0" y="419.2" width="1.2" height="1.2" fill="#e8eef8"/><rect x="1234.3" y="419.2" width="1.2" height="1.2" fill="#e8eef8"/><rect x="1227.7" y="422.4" width="1.2" height="1.2" fill="#e8eef8"/><rect x="1231.0" y="422.4" width="1.2" height="1.2" fill="#e8eef8"/><rect x="1234.3" y="422.4" width="1.2" height="1.2" fill="#e8eef8"/></g><circle cx="1313.8" cy="424" r="13" fill="#131722" stroke="#f23645" stroke-width="2"/><clipPath id="fl1313"><circle cx="1313.8" cy="424" r="10"/></clipPath><g clip-path="url(#fl1313)"><rect x="1303.8" y="414" width="20" height="20" fill="#f5f5f5"/><rect x="1303.8" y="414.0" width="20" height="2.3" fill="#ef4b4b"/><rect x="1303.8" y="418.6" width="20" height="2.3" fill="#ef4b4b"/><rect x="1303.8" y="423.2" width="20" height="2.3" fill="#ef4b4b"/><rect x="1303.8" y="427.8" width="20" height="2.3" fill="#ef4b4b"/><rect x="1303.8" y="432.4" width="20" height="2.3" fill="#ef4b4b"/><rect x="1303.8" y="430" width="20" height="4" fill="#ef4b4b"/><rect x="1303.8" y="414" width="12" height="11.5" fill="#3d8de0"/><rect x="1305.5" y="416.0" width="1.2" height="1.2" fill="#e8eef8"/><rect x="1308.8" y="416.0" width="1.2" height="1.2" fill="#e8eef8"/><rect x="1312.1" y="416.0" width="1.2" height="1.2" fill="#e8eef8"/><rect x="1305.5" y="419.2" width="1.2" height="1.2" fill="#e8eef8"/><rect x="1308.8" y="419.2" width="1.2" height="1.2" fill="#e8eef8"/><rect x="1312.1" y="419.2" width="1.2" height="1.2" fill="#e8eef8"/><rect x="1305.5" y="422.4" width="1.2" height="1.2" fill="#e8eef8"/><rect x="1308.8" y="422.4" width="1.2" height="1.2" fill="#e8eef8"/><rect x="1312.1" y="422.4" width="1.2" height="1.2" fill="#e8eef8"/></g><circle cx="1335.5" cy="424" r="13" fill="#131722" stroke="#f23645" stroke-width="2"/><clipPath id="fl1335"><circle cx="1335.5" cy="424" r="10"/></clipPath><g clip-path="url(#fl1335)"><rect x="1325.5" y="414" width="20" height="20" fill="#f5f5f5"/><rect x="1325.5" y="414.0" width="20" height="2.3" fill="#ef4b4b"/><rect x="1325.5" y="418.6" width="20" height="2.3" fill="#ef4b4b"/><rect x="1325.5" y="423.2" width="20" height="2.3" fill="#ef4b4b"/><rect x="1325.5" y="427.8" width="20" height="2.3" fill="#ef4b4b"/><rect x="1325.5" y="432.4" width="20" height="2.3" fill="#ef4b4b"/><rect x="1325.5" y="430" width="20" height="4" fill="#ef4b4b"/><rect x="1325.5" y="414" width="12" height="11.5" fill="#3d8de0"/><rect x="1327.2" y="416.0" width="1.2" height="1.2" fill="#e8eef8"/><rect x="1330.5" y="416.0" width="1.2" height="1.2" fill="#e8eef8"/><rect x="1333.8" y="416.0" width="1.2" height="1.2" fill="#e8eef8"/><rect x="1327.2" y="419.2" width="1.2" height="1.2" fill="#e8eef8"/><rect x="1330.5" y="419.2" width="1.2" height="1.2" fill="#e8eef8"/><rect x="1333.8" y="419.2" width="1.2" height="1.2" fill="#e8eef8"/><rect x="1327.2" y="422.4" width="1.2" height="1.2" fill="#e8eef8"/><rect x="1330.5" y="422.4" width="1.2" height="1.2" fill="#e8eef8"/><rect x="1333.8" y="422.4" width="1.2" height="1.2" fill="#e8eef8"/></g><line x1="14" y1="440.5" x2="1800" y2="440.5" stroke="#2a2e39" stroke-width="1"/><line x1="14" y1="504.5" x2="1800" y2="504.5" stroke="#2a2e39" stroke-width="1"/><line x1="14" y1="474.5" x2="1716.5" y2="474.5" stroke="#4a4170" stroke-width="1"/><line x1="14" y1="459.5" x2="1716.5" y2="459.5" stroke="#d1d4dc" stroke-width="1.2" stroke-dasharray="5 6" stroke-dashoffset="1.1"/><line x1="14" y1="490.5" x2="1716.5" y2="490.5" stroke="#d1d4dc" stroke-width="1.2" stroke-dasharray="5 6" stroke-dashoffset="1.1"/><clipPath id="rp"><rect x="14" y="441" width="1702.5" height="63"/></clipPath><polyline clip-path="url(#rp)" points="12.9,491.6 16.4,484.7 19.0,490.3 23.2,486.6 26.5,485.0 32.5,478.6 39.1,479.7 45.0,478.4 49.7,466.5 51.7,459.2 55.6,458.5 59.6,457.9 62.9,461.0 65.6,452.6 68.2,452.2 72.2,453.9 76.2,453.2 79.5,453.2 84.1,449.3 86.7,454.6 89.4,458.5 96.0,461.2 102.6,463.8 110.6,467.1 114.5,467.8 118.5,463.8 126.4,463.2 131.7,461.8 137.0,457.2 140.3,452.6 143.6,457.2 148.9,453.9 154.2,454.8 159.5,454.3 164.8,457.2 170.1,462.5 175.4,463.8 180.7,461.2 185.3,456.5 188.6,459.8 191.9,467.1 196.6,461.8 201.9,466.5 208.5,467.1 214.4,469.1 217.7,465.8 224.3,465.1 234.9,465.8 240.2,461.8 244.2,481.0 248.3,475.7 254.9,472.4 256.9,473.1 260.6,466.2 264.8,468.4 268.8,469.4 272.8,469.4 276.8,475.5 280.5,472.0 286.7,477.0 290.0,475.7 295.9,477.0 299.2,474.7 303.2,479.0 305.9,476.0 312.5,475.7 315.8,471.5 321.7,472.4 325.7,470.7 332.3,472.8 335.6,471.8 337.6,483.0 341.6,482.6 345.6,480.4 348.9,482.1 351.5,482.3 354.8,480.4 358.1,481.0 361.4,474.7 364.7,476.4 368.0,475.0 370.7,466.5 374.7,464.2 378.6,463.6 384.6,465.1 390.5,461.4 394.5,462.8 397.2,468.4 400.5,473.7 406.4,471.5 410.4,477.0 417.0,467.8 421.0,468.4 426.3,467.5 431.6,470.2 438.2,470.2 444.8,468.4 450.1,470.2 454.0,474.7 459.3,479.0 462.0,474.7 465.3,481.3 471.9,472.4 475.9,475.5 477.9,475.5 481.8,479.4 486.6,476.4 491.6,471.5 494.6,475.5 499.8,472.4 501.2,473.1 504.5,467.5 510.4,467.8 514.4,476.8 518.4,473.3 523.7,474.7 527.6,478.6 530.3,478.1 534.2,475.1 538.2,476.0 543.5,475.7 546.8,479.4 550.1,479.4 552.8,476.8 559.4,478.1 566.0,473.1 570.0,474.7 573.3,474.7 575.9,477.3 579.9,476.8 582.9,473.7 585.8,477.3 589.8,477.0 592.2,478.4 595.1,470.7 599.7,466.5 602.4,467.8 607.7,467.1 612.3,463.6 615.6,453.2 618.9,448.6 622.9,446.9 627.5,449.0 630.8,448.2 634.1,449.9 638.1,449.5 640.8,457.2 647.4,456.5 650.7,459.2 654.6,463.6 660.6,459.6 665.2,459.2 670.5,455.2 673.8,458.8 677.1,457.5 680.5,454.3 687.1,453.5 689.7,468.0 697.0,464.5 699.6,467.1 703.6,466.5 710.2,468.4 714.2,468.4 719.6,470.4 721.6,468.2 725.6,471.8 729.3,469.4 732.2,470.4 735.5,470.7 738.2,478.6 742.1,482.1 748.1,489.6 752.0,486.6 758.0,486.6 761.3,477.7 764.2,466.7 768.6,470.4 774.3,467.5 780.5,473.3 784.5,483.9 790.4,484.7 794.4,489.0 800.3,487.9 805.6,490.9 810.9,494.5 816.2,489.6 820.8,491.6 827.2,492.7 829.4,497.6 834.1,497.2 837.4,495.8 842.7,496.2 846.0,490.5 853.3,483.4 855.5,486.3 859.2,482.6 865.8,485.6 869.8,486.0 875.8,479.0 878.4,483.7 882.0,482.1 885.7,485.6 892.3,480.4 898.3,483.7 902.2,481.3 905.5,481.7 908.8,475.7 910.8,466.2 917.4,465.1 924.0,453.2 927.4,475.5 934.6,468.0 940.6,467.8 947.2,463.6 951.8,465.4 956.0,465.4 960.6,468.8 967.2,467.8 976.5,467.8 984.4,469.4 992.3,470.7 995.6,469.4 999.6,470.7 1002.3,464.1 1008.2,472.8 1012.2,481.0 1015.5,480.0 1018.8,481.7 1024.4,488.3 1028.7,483.7 1038.0,483.0 1041.3,475.5 1045.3,473.3 1048.6,473.7 1051.2,476.0 1054.8,473.7 1061.1,479.4 1064.0,479.0 1066.7,468.4 1071.7,467.5 1077.0,467.1 1081.0,471.8 1086.9,472.4 1089.6,467.5 1092.9,469.8 1096.9,468.8 1103.5,463.2 1106.8,464.1 1109.4,467.1 1114.1,467.5 1116.0,470.4 1119.4,480.4 1123.3,475.5 1129.3,476.0 1132.6,474.7 1136.6,476.0 1140.5,474.1 1142.5,475.1 1145.8,482.1 1151.1,486.6 1157.9,488.3 1161.9,493.6 1164.6,486.3 1173.8,486.0 1178.4,489.2 1181.1,482.6 1185.1,483.7 1188.4,482.6 1191.0,484.7 1194.3,481.7 1197.0,473.1 1200.9,479.0 1204.2,480.4 1206.9,482.3 1212.2,482.6 1216.2,485.3 1220.8,489.6 1223.4,486.0 1229.4,492.3 1236.0,491.2" fill="none" stroke="#f5e13b" stroke-width="1.5" stroke-linejoin="round"/><text x="23.6" y="465.9" font-size="14.6" fill="#d1d4dc" text-anchor="start" font-weight="normal" textLength="93.9" lengthAdjust="spacingAndGlyphs" stroke="#d1d4dc" stroke-width="0.3">RSI (14, close)</text><text x="128.1" y="465.9" font-size="14.6" fill="#ffeb3b" text-anchor="start" font-weight="normal" textLength="35.7" lengthAdjust="spacingAndGlyphs" stroke="#ffeb3b" stroke-width="0.3">28.79</text><rect x="13" y="570" width="2" height="47" fill="#2962ff"/><rect x="16" y="567" width="2" height="50" fill="#2962ff"/><rect x="19" y="566" width="2" height="51" fill="#2962ff"/><rect x="22" y="566" width="2" height="51" fill="#2962ff"/><rect x="26" y="575" width="2" height="42" fill="#2962ff"/><rect x="29" y="577" width="2" height="40" fill="#2962ff"/><rect x="32" y="583" width="2" height="34" fill="#2962ff"/><rect x="35" y="589" width="2" height="28" fill="#2962ff"/><rect x="39" y="594" width="2" height="23" fill="#2962ff"/><rect x="42" y="597" width="2" height="20" fill="#2962ff"/><rect x="45" y="595" width="2" height="22" fill="#2962ff"/><rect x="48" y="587" width="2" height="30" fill="#2962ff"/><rect x="52" y="577" width="2" height="40" fill="#2962ff"/><rect x="55" y="570" width="2" height="47" fill="#2962ff"/><rect x="58" y="565" width="2" height="52" fill="#2962ff"/><rect x="61" y="552" width="2" height="65" fill="#2962ff"/><rect x="65" y="530" width="2" height="87" fill="#2962ff"/><rect x="68" y="532" width="2" height="85" fill="#2962ff"/><rect x="71" y="540" width="2" height="77" fill="#2962ff"/><rect x="74" y="544" width="2" height="73" fill="#2962ff"/><rect x="78" y="542" width="2" height="75" fill="#2962ff"/><rect x="81" y="541" width="2" height="76" fill="#2962ff"/><rect x="84" y="535" width="2" height="82" fill="#2962ff"/><rect x="87" y="526" width="2" height="91" fill="#2962ff"/><rect x="91" y="519" width="2" height="98" fill="#2962ff"/><rect x="94" y="520" width="2" height="97" fill="#2962ff"/><rect x="97" y="528" width="2" height="89" fill="#2962ff"/><rect x="100" y="532" width="2" height="85" fill="#2962ff"/><rect x="104" y="546" width="2" height="71" fill="#2962ff"/><rect x="107" y="556" width="2" height="61" fill="#2962ff"/><rect x="110" y="564" width="2" height="53" fill="#2962ff"/><rect x="113" y="567" width="2" height="50" fill="#2962ff"/><rect x="117" y="566" width="2" height="51" fill="#2962ff"/><rect x="120" y="569" width="2" height="48" fill="#2962ff"/><rect x="123" y="579" width="2" height="38" fill="#2962ff"/><rect x="126" y="586" width="2" height="31" fill="#2962ff"/><rect x="130" y="585" width="2" height="32" fill="#2962ff"/><rect x="133" y="580" width="2" height="37" fill="#2962ff"/><rect x="136" y="574" width="2" height="43" fill="#2962ff"/><rect x="139" y="570" width="2" height="47" fill="#2962ff"/><rect x="143" y="565" width="2" height="52" fill="#2962ff"/><rect x="146" y="560" width="2" height="57" fill="#2962ff"/><rect x="149" y="549" width="2" height="68" fill="#2962ff"/><rect x="152" y="551" width="2" height="66" fill="#2962ff"/><rect x="156" y="555" width="2" height="62" fill="#2962ff"/><rect x="159" y="561" width="2" height="56" fill="#2962ff"/><rect x="162" y="567" width="2" height="50" fill="#2962ff"/><rect x="166" y="567" width="2" height="50" fill="#2962ff"/><rect x="169" y="578" width="2" height="39" fill="#2962ff"/><rect x="172" y="581" width="2" height="36" fill="#2962ff"/><rect x="175" y="583" width="2" height="34" fill="#2962ff"/><rect x="179" y="585" width="2" height="32" fill="#2962ff"/><rect x="182" y="584" width="2" height="33" fill="#2962ff"/><rect x="185" y="582" width="2" height="35" fill="#2962ff"/><rect x="188" y="579" width="2" height="38" fill="#2962ff"/><rect x="192" y="573" width="2" height="44" fill="#2962ff"/><rect x="195" y="568" width="2" height="49" fill="#2962ff"/><rect x="198" y="560" width="2" height="57" fill="#2962ff"/><rect x="201" y="557" width="2" height="60" fill="#2962ff"/><rect x="205" y="561" width="2" height="56" fill="#2962ff"/><rect x="208" y="563" width="2" height="54" fill="#2962ff"/><rect x="211" y="569" width="2" height="48" fill="#2962ff"/><rect x="214" y="571" width="2" height="46" fill="#2962ff"/><rect x="218" y="574" width="2" height="43" fill="#2962ff"/><rect x="221" y="574" width="2" height="43" fill="#2962ff"/><rect x="224" y="574" width="2" height="43" fill="#2962ff"/><rect x="227" y="576" width="2" height="41" fill="#2962ff"/><rect x="231" y="577" width="2" height="40" fill="#2962ff"/><rect x="234" y="579" width="2" height="38" fill="#2962ff"/><rect x="237" y="582" width="2" height="35" fill="#2962ff"/><rect x="240" y="577" width="2" height="40" fill="#2962ff"/><rect x="244" y="555" width="2" height="62" fill="#2962ff"/><rect x="247" y="548" width="2" height="69" fill="#2962ff"/><rect x="250" y="547" width="2" height="70" fill="#2962ff"/><rect x="253" y="546" width="2" height="71" fill="#2962ff"/><rect x="257" y="544" width="2" height="73" fill="#2962ff"/><rect x="260" y="546" width="2" height="71" fill="#2962ff"/><rect x="263" y="567" width="2" height="50" fill="#2962ff"/><rect x="266" y="573" width="2" height="44" fill="#2962ff"/><rect x="270" y="574" width="2" height="43" fill="#2962ff"/><rect x="273" y="574" width="2" height="43" fill="#2962ff"/><rect x="276" y="572" width="2" height="45" fill="#2962ff"/><rect x="279" y="576" width="2" height="41" fill="#2962ff"/><rect x="283" y="580" width="2" height="37" fill="#2962ff"/><rect x="286" y="578" width="2" height="39" fill="#2962ff"/><rect x="289" y="578" width="2" height="39" fill="#2962ff"/><rect x="292" y="580" width="2" height="37" fill="#2962ff"/><rect x="296" y="587" width="2" height="30" fill="#2962ff"/><rect x="299" y="597" width="2" height="20" fill="#2962ff"/><rect x="302" y="599" width="2" height="18" fill="#2962ff"/><rect x="305" y="603" width="2" height="14" fill="#2962ff"/><rect x="309" y="604" width="2" height="13" fill="#2962ff"/><rect x="312" y="604" width="2" height="13" fill="#2962ff"/><rect x="315" y="603" width="2" height="14" fill="#2962ff"/><rect x="318" y="602" width="2" height="15" fill="#2962ff"/><rect x="322" y="602" width="2" height="15" fill="#2962ff"/><rect x="325" y="601" width="2" height="16" fill="#2962ff"/><rect x="328" y="600" width="2" height="17" fill="#2962ff"/><rect x="331" y="600" width="2" height="17" fill="#2962ff"/><rect x="335" y="598" width="2" height="19" fill="#2962ff"/><rect x="338" y="588" width="2" height="29" fill="#2962ff"/><rect x="341" y="585" width="2" height="32" fill="#2962ff"/><rect x="344" y="585" width="2" height="32" fill="#2962ff"/><rect x="348" y="584" width="2" height="33" fill="#2962ff"/><rect x="351" y="582" width="2" height="35" fill="#2962ff"/><rect x="354" y="581" width="2" height="36" fill="#2962ff"/><rect x="357" y="590" width="2" height="27" fill="#2962ff"/><rect x="361" y="588" width="2" height="29" fill="#2962ff"/><rect x="364" y="589" width="2" height="28" fill="#2962ff"/><rect x="367" y="589" width="2" height="28" fill="#2962ff"/><rect x="370" y="587" width="2" height="30" fill="#2962ff"/><rect x="374" y="585" width="2" height="32" fill="#2962ff"/><rect x="377" y="585" width="2" height="32" fill="#2962ff"/><rect x="380" y="588" width="2" height="29" fill="#2962ff"/><rect x="383" y="584" width="2" height="33" fill="#2962ff"/><rect x="387" y="575" width="2" height="42" fill="#2962ff"/><rect x="390" y="578" width="2" height="39" fill="#2962ff"/><rect x="393" y="581" width="2" height="36" fill="#2962ff"/><rect x="396" y="577" width="2" height="40" fill="#2962ff"/><rect x="400" y="574" width="2" height="43" fill="#2962ff"/><rect x="403" y="578" width="2" height="39" fill="#2962ff"/><rect x="406" y="584" width="2" height="33" fill="#2962ff"/><rect x="410" y="582" width="2" height="35" fill="#2962ff"/><rect x="413" y="581" width="2" height="36" fill="#2962ff"/><rect x="416" y="579" width="2" height="38" fill="#2962ff"/><rect x="419" y="583" width="2" height="34" fill="#2962ff"/><rect x="423" y="584" width="2" height="33" fill="#2962ff"/><rect x="426" y="586" width="2" height="31" fill="#2962ff"/><rect x="429" y="590" width="2" height="27" fill="#2962ff"/><rect x="432" y="593" width="2" height="24" fill="#2962ff"/><rect x="436" y="603" width="2" height="14" fill="#2962ff"/><rect x="439" y="607" width="2" height="10" fill="#2962ff"/><rect x="442" y="608" width="2" height="9" fill="#2962ff"/><rect x="445" y="609" width="2" height="8" fill="#2962ff"/><rect x="449" y="610" width="2" height="7" fill="#2962ff"/><rect x="452" y="610" width="2" height="7" fill="#2962ff"/><rect x="455" y="609" width="2" height="8" fill="#2962ff"/><rect x="458" y="607" width="2" height="10" fill="#2962ff"/><rect x="462" y="606" width="2" height="11" fill="#2962ff"/><rect x="465" y="603" width="2" height="14" fill="#2962ff"/><rect x="468" y="600" width="2" height="17" fill="#2962ff"/><rect x="471" y="596" width="2" height="21" fill="#2962ff"/><rect x="475" y="594" width="2" height="23" fill="#2962ff"/><rect x="478" y="589" width="2" height="28" fill="#2962ff"/><rect x="481" y="583" width="2" height="34" fill="#2962ff"/><rect x="484" y="584" width="2" height="33" fill="#2962ff"/><rect x="488" y="585" width="2" height="32" fill="#2962ff"/><rect x="491" y="586" width="2" height="31" fill="#2962ff"/><rect x="494" y="587" width="2" height="30" fill="#2962ff"/><rect x="497" y="590" width="2" height="27" fill="#2962ff"/><rect x="501" y="598" width="2" height="19" fill="#2962ff"/><rect x="504" y="596" width="2" height="21" fill="#2962ff"/><rect x="507" y="597" width="2" height="20" fill="#2962ff"/><rect x="510" y="599" width="2" height="18" fill="#2962ff"/><rect x="514" y="595" width="2" height="22" fill="#2962ff"/><rect x="517" y="594" width="2" height="23" fill="#2962ff"/><rect x="520" y="594" width="2" height="23" fill="#2962ff"/><rect x="523" y="596" width="2" height="21" fill="#2962ff"/><rect x="527" y="596" width="2" height="21" fill="#2962ff"/><rect x="530" y="596" width="2" height="21" fill="#2962ff"/><rect x="533" y="598" width="2" height="19" fill="#2962ff"/><rect x="536" y="601" width="2" height="16" fill="#2962ff"/><rect x="540" y="602" width="2" height="15" fill="#2962ff"/><rect x="543" y="603" width="2" height="14" fill="#2962ff"/><rect x="546" y="602" width="2" height="15" fill="#2962ff"/><rect x="549" y="606" width="2" height="11" fill="#2962ff"/><rect x="553" y="609" width="2" height="8" fill="#2962ff"/><rect x="556" y="610" width="2" height="7" fill="#2962ff"/><rect x="559" y="610" width="2" height="7" fill="#2962ff"/><rect x="562" y="610" width="2" height="7" fill="#2962ff"/><rect x="566" y="611" width="2" height="6" fill="#2962ff"/><rect x="569" y="611" width="2" height="6" fill="#2962ff"/><rect x="572" y="612" width="2" height="5" fill="#2962ff"/><rect x="575" y="610" width="2" height="7" fill="#2962ff"/><rect x="579" y="610" width="2" height="7" fill="#2962ff"/><rect x="582" y="610" width="2" height="7" fill="#2962ff"/><rect x="585" y="610" width="2" height="7" fill="#2962ff"/><rect x="588" y="610" width="2" height="7" fill="#2962ff"/><rect x="592" y="609" width="2" height="8" fill="#2962ff"/><rect x="595" y="608" width="2" height="9" fill="#2962ff"/><rect x="598" y="606" width="2" height="11" fill="#2962ff"/><rect x="601" y="605" width="2" height="12" fill="#2962ff"/><rect x="605" y="604" width="2" height="13" fill="#2962ff"/><rect x="608" y="603" width="2" height="14" fill="#2962ff"/><rect x="611" y="598" width="2" height="19" fill="#2962ff"/><rect x="614" y="583" width="2" height="34" fill="#2962ff"/><rect x="618" y="574" width="2" height="43" fill="#2962ff"/><rect x="621" y="567" width="2" height="50" fill="#2962ff"/><rect x="624" y="565" width="2" height="52" fill="#2962ff"/><rect x="627" y="563" width="2" height="54" fill="#2962ff"/><rect x="631" y="563" width="2" height="54" fill="#2962ff"/><rect x="634" y="571" width="2" height="46" fill="#2962ff"/><rect x="637" y="577" width="2" height="40" fill="#2962ff"/><rect x="640" y="585" width="2" height="32" fill="#2962ff"/><rect x="644" y="586" width="2" height="31" fill="#2962ff"/><rect x="647" y="584" width="2" height="33" fill="#2962ff"/><rect x="650" y="579" width="2" height="38" fill="#2962ff"/><rect x="654" y="585" width="2" height="32" fill="#2962ff"/><rect x="657" y="588" width="2" height="29" fill="#2962ff"/><rect x="660" y="587" width="2" height="30" fill="#2962ff"/><rect x="663" y="587" width="2" height="30" fill="#2962ff"/><rect x="667" y="589" width="2" height="28" fill="#2962ff"/><rect x="670" y="594" width="2" height="23" fill="#2962ff"/><rect x="673" y="595" width="2" height="22" fill="#2962ff"/><rect x="676" y="594" width="2" height="23" fill="#2962ff"/><rect x="680" y="590" width="2" height="27" fill="#2962ff"/><rect x="683" y="587" width="2" height="30" fill="#2962ff"/><rect x="686" y="586" width="2" height="31" fill="#2962ff"/><rect x="689" y="582" width="2" height="35" fill="#2962ff"/><rect x="693" y="579" width="2" height="38" fill="#2962ff"/><rect x="696" y="579" width="2" height="38" fill="#2962ff"/><rect x="699" y="584" width="2" height="33" fill="#2962ff"/><rect x="702" y="588" width="2" height="29" fill="#2962ff"/><rect x="706" y="592" width="2" height="25" fill="#2962ff"/><rect x="709" y="601" width="2" height="16" fill="#2962ff"/><rect x="712" y="605" width="2" height="12" fill="#2962ff"/><rect x="715" y="608" width="2" height="9" fill="#2962ff"/><rect x="719" y="608" width="2" height="9" fill="#2962ff"/><rect x="722" y="609" width="2" height="8" fill="#2962ff"/><rect x="725" y="610" width="2" height="7" fill="#2962ff"/><rect x="728" y="611" width="2" height="6" fill="#2962ff"/><rect x="732" y="608" width="2" height="9" fill="#2962ff"/><rect x="735" y="605" width="2" height="12" fill="#2962ff"/><rect x="738" y="602" width="2" height="15" fill="#2962ff"/><rect x="741" y="600" width="2" height="17" fill="#2962ff"/><rect x="745" y="593" width="2" height="24" fill="#2962ff"/><rect x="748" y="587" width="2" height="30" fill="#2962ff"/><rect x="751" y="585" width="2" height="32" fill="#2962ff"/><rect x="754" y="586" width="2" height="31" fill="#2962ff"/><rect x="758" y="587" width="2" height="30" fill="#2962ff"/><rect x="761" y="586" width="2" height="31" fill="#2962ff"/><rect x="764" y="586" width="2" height="31" fill="#2962ff"/><rect x="767" y="588" width="2" height="29" fill="#2962ff"/><rect x="771" y="589" width="2" height="28" fill="#2962ff"/><rect x="774" y="589" width="2" height="28" fill="#2962ff"/><rect x="777" y="591" width="2" height="26" fill="#2962ff"/><rect x="780" y="588" width="2" height="29" fill="#2962ff"/><rect x="784" y="573" width="2" height="44" fill="#2962ff"/><rect x="787" y="571" width="2" height="46" fill="#2962ff"/><rect x="790" y="569" width="2" height="48" fill="#2962ff"/><rect x="793" y="560" width="2" height="57" fill="#2962ff"/><rect x="797" y="559" width="2" height="58" fill="#2962ff"/><rect x="800" y="566" width="2" height="51" fill="#2962ff"/><rect x="803" y="579" width="2" height="38" fill="#2962ff"/><rect x="806" y="579" width="2" height="38" fill="#2962ff"/><rect x="810" y="576" width="2" height="41" fill="#2962ff"/><rect x="813" y="582" width="2" height="35" fill="#2962ff"/><rect x="816" y="583" width="2" height="34" fill="#2962ff"/><rect x="819" y="580" width="2" height="37" fill="#2962ff"/><rect x="823" y="582" width="2" height="35" fill="#2962ff"/><rect x="826" y="582" width="2" height="35" fill="#2962ff"/><rect x="829" y="581" width="2" height="36" fill="#2962ff"/><rect x="832" y="583" width="2" height="34" fill="#2962ff"/><rect x="836" y="585" width="2" height="32" fill="#2962ff"/><rect x="839" y="589" width="2" height="28" fill="#2962ff"/><rect x="842" y="591" width="2" height="26" fill="#2962ff"/><rect x="845" y="595" width="2" height="22" fill="#2962ff"/><rect x="849" y="603" width="2" height="14" fill="#2962ff"/><rect x="852" y="602" width="2" height="15" fill="#2962ff"/><rect x="855" y="601" width="2" height="16" fill="#2962ff"/><rect x="858" y="601" width="2" height="16" fill="#2962ff"/><rect x="862" y="601" width="2" height="16" fill="#2962ff"/><rect x="865" y="602" width="2" height="15" fill="#2962ff"/><rect x="868" y="603" width="2" height="14" fill="#2962ff"/><rect x="871" y="605" width="2" height="12" fill="#2962ff"/><rect x="875" y="603" width="2" height="14" fill="#2962ff"/><rect x="878" y="601" width="2" height="16" fill="#2962ff"/><rect x="881" y="598" width="2" height="19" fill="#2962ff"/><rect x="884" y="593" width="2" height="24" fill="#2962ff"/><rect x="888" y="587" width="2" height="30" fill="#2962ff"/><rect x="891" y="586" width="2" height="31" fill="#2962ff"/><rect x="894" y="587" width="2" height="30" fill="#2962ff"/><rect x="898" y="588" width="2" height="29" fill="#2962ff"/><rect x="901" y="591" width="2" height="26" fill="#2962ff"/><rect x="904" y="594" width="2" height="23" fill="#2962ff"/><rect x="907" y="595" width="2" height="22" fill="#2962ff"/><rect x="911" y="591" width="2" height="26" fill="#2962ff"/><rect x="914" y="590" width="2" height="27" fill="#2962ff"/><rect x="917" y="589" width="2" height="28" fill="#2962ff"/><rect x="920" y="583" width="2" height="34" fill="#2962ff"/><rect x="924" y="568" width="2" height="49" fill="#2962ff"/><rect x="927" y="553" width="2" height="64" fill="#2962ff"/><rect x="930" y="541" width="2" height="76" fill="#2962ff"/><rect x="933" y="535" width="2" height="82" fill="#2962ff"/><rect x="937" y="532" width="2" height="85" fill="#2962ff"/><rect x="940" y="536" width="2" height="81" fill="#2962ff"/><rect x="943" y="538" width="2" height="79" fill="#2962ff"/><rect x="946" y="550" width="2" height="67" fill="#2962ff"/><rect x="950" y="563" width="2" height="54" fill="#2962ff"/><rect x="953" y="570" width="2" height="47" fill="#2962ff"/><rect x="956" y="573" width="2" height="44" fill="#2962ff"/><rect x="959" y="572" width="2" height="45" fill="#2962ff"/><rect x="963" y="571" width="2" height="46" fill="#2962ff"/><rect x="966" y="576" width="2" height="41" fill="#2962ff"/><rect x="969" y="581" width="2" height="36" fill="#2962ff"/><rect x="972" y="582" width="2" height="35" fill="#2962ff"/><rect x="976" y="583" width="2" height="34" fill="#2962ff"/><rect x="979" y="587" width="2" height="30" fill="#2962ff"/><rect x="982" y="599" width="2" height="18" fill="#2962ff"/><rect x="985" y="602" width="2" height="15" fill="#2962ff"/><rect x="989" y="603" width="2" height="14" fill="#2962ff"/><rect x="992" y="603" width="2" height="14" fill="#2962ff"/><rect x="995" y="604" width="2" height="13" fill="#2962ff"/><rect x="998" y="605" width="2" height="12" fill="#2962ff"/><rect x="1002" y="599" width="2" height="18" fill="#2962ff"/><rect x="1005" y="596" width="2" height="21" fill="#2962ff"/><rect x="1008" y="596" width="2" height="21" fill="#2962ff"/><rect x="1011" y="588" width="2" height="29" fill="#2962ff"/><rect x="1015" y="585" width="2" height="32" fill="#2962ff"/><rect x="1018" y="584" width="2" height="33" fill="#2962ff"/><rect x="1021" y="584" width="2" height="33" fill="#2962ff"/><rect x="1024" y="578" width="2" height="39" fill="#2962ff"/><rect x="1028" y="578" width="2" height="39" fill="#2962ff"/><rect x="1031" y="583" width="2" height="34" fill="#2962ff"/><rect x="1034" y="585" width="2" height="32" fill="#2962ff"/><rect x="1037" y="585" width="2" height="32" fill="#2962ff"/><rect x="1041" y="582" width="2" height="35" fill="#2962ff"/><rect x="1044" y="587" width="2" height="30" fill="#2962ff"/><rect x="1047" y="589" width="2" height="28" fill="#2962ff"/><rect x="1050" y="587" width="2" height="30" fill="#2962ff"/><rect x="1054" y="588" width="2" height="29" fill="#2962ff"/><rect x="1057" y="587" width="2" height="30" fill="#2962ff"/><rect x="1060" y="592" width="2" height="25" fill="#2962ff"/><rect x="1063" y="581" width="2" height="36" fill="#2962ff"/><rect x="1067" y="576" width="2" height="41" fill="#2962ff"/><rect x="1070" y="576" width="2" height="41" fill="#2962ff"/><rect x="1073" y="575" width="2" height="42" fill="#2962ff"/><rect x="1076" y="575" width="2" height="42" fill="#2962ff"/><rect x="1080" y="576" width="2" height="41" fill="#2962ff"/><rect x="1083" y="588" width="2" height="29" fill="#2962ff"/><rect x="1086" y="592" width="2" height="25" fill="#2962ff"/><rect x="1089" y="590" width="2" height="27" fill="#2962ff"/><rect x="1093" y="590" width="2" height="27" fill="#2962ff"/><rect x="1096" y="592" width="2" height="25" fill="#2962ff"/><rect x="1099" y="591" width="2" height="26" fill="#2962ff"/><rect x="1102" y="588" width="2" height="29" fill="#2962ff"/><rect x="1106" y="589" width="2" height="28" fill="#2962ff"/><rect x="1109" y="591" width="2" height="26" fill="#2962ff"/><rect x="1112" y="591" width="2" height="26" fill="#2962ff"/><rect x="1115" y="590" width="2" height="27" fill="#2962ff"/><rect x="1119" y="594" width="2" height="23" fill="#2962ff"/><rect x="1122" y="597" width="2" height="20" fill="#2962ff"/><rect x="1125" y="595" width="2" height="22" fill="#2962ff"/><rect x="1129" y="595" width="2" height="22" fill="#2962ff"/><rect x="1132" y="596" width="2" height="21" fill="#2962ff"/><rect x="1135" y="598" width="2" height="19" fill="#2962ff"/><rect x="1138" y="602" width="2" height="15" fill="#2962ff"/><rect x="1142" y="602" width="2" height="15" fill="#2962ff"/><rect x="1145" y="601" width="2" height="16" fill="#2962ff"/><rect x="1148" y="598" width="2" height="19" fill="#2962ff"/><rect x="1151" y="595" width="2" height="22" fill="#2962ff"/><rect x="1155" y="591" width="2" height="26" fill="#2962ff"/><rect x="1158" y="585" width="2" height="32" fill="#2962ff"/><rect x="1161" y="577" width="2" height="40" fill="#2962ff"/><rect x="1164" y="577" width="2" height="40" fill="#2962ff"/><rect x="1168" y="581" width="2" height="36" fill="#2962ff"/><rect x="1171" y="582" width="2" height="35" fill="#2962ff"/><rect x="1174" y="584" width="2" height="33" fill="#2962ff"/><rect x="1177" y="586" width="2" height="31" fill="#2962ff"/><rect x="1181" y="593" width="2" height="24" fill="#2962ff"/><rect x="1184" y="595" width="2" height="22" fill="#2962ff"/><rect x="1187" y="594" width="2" height="23" fill="#2962ff"/><rect x="1190" y="596" width="2" height="21" fill="#2962ff"/><rect x="1194" y="595" width="2" height="22" fill="#2962ff"/><rect x="1197" y="586" width="2" height="31" fill="#2962ff"/><rect x="1200" y="580" width="2" height="37" fill="#2962ff"/><rect x="1203" y="577" width="2" height="40" fill="#2962ff"/><rect x="1207" y="578" width="2" height="39" fill="#2962ff"/><rect x="1210" y="578" width="2" height="39" fill="#2962ff"/><rect x="1213" y="577" width="2" height="40" fill="#2962ff"/><rect x="1216" y="578" width="2" height="39" fill="#2962ff"/><rect x="1220" y="586" width="2" height="31" fill="#2962ff"/><rect x="1223" y="587" width="2" height="30" fill="#2962ff"/><rect x="1226" y="582" width="2" height="35" fill="#2962ff"/><rect x="1229" y="565" width="2" height="52" fill="#2962ff"/><rect x="1233" y="567" width="2" height="50" fill="#2962ff"/><rect x="1236" y="570" width="2" height="47" fill="#2962ff"/><text x="23.2" y="529.7" font-size="14.6" fill="#d1d4dc" text-anchor="start" font-weight="normal" textLength="158.8" lengthAdjust="spacingAndGlyphs" stroke="#d1d4dc" stroke-width="0.3">24H Vol (close, Default)</text><text x="192" y="529.7" font-size="14.6" fill="#2962ff" text-anchor="start" font-weight="normal" textLength="54.8" lengthAdjust="spacingAndGlyphs" stroke="#2962ff" stroke-width="0.3">94.483M</text><line x1="14" y1="627.5" x2="1800" y2="627.5" stroke="#787b86" stroke-width="1"/><line x1="1716.5" y1="35" x2="1716.5" y2="661" stroke="#787b86" stroke-width="1"/><text x="55.9" y="650.3" font-size="15.8" fill="#d1d4dc" text-anchor="middle" font-weight="normal" textLength="16.4" lengthAdjust="spacingAndGlyphs" stroke="#d1d4dc" stroke-width="0.3">13</text><text x="192.5" y="650.3" font-size="15.8" fill="#d1d4dc" text-anchor="middle" font-weight="normal" textLength="16.4" lengthAdjust="spacingAndGlyphs" stroke="#d1d4dc" stroke-width="0.3">20</text><text x="309.7" y="650.3" font-size="15.8" fill="#d1d4dc" text-anchor="middle" font-weight="normal" textLength="16.4" lengthAdjust="spacingAndGlyphs" stroke="#d1d4dc" stroke-width="0.3">26</text><text x="426.8" y="650.3" font-size="15.8" fill="#d1d4dc" text-anchor="middle" font-weight="bold" textLength="26.5" lengthAdjust="spacingAndGlyphs" stroke="#d1d4dc" stroke-width="0.3">Apr</text><text x="602.5" y="650.3" font-size="15.8" fill="#d1d4dc" text-anchor="middle" font-weight="normal" textLength="16.4" lengthAdjust="spacingAndGlyphs" stroke="#d1d4dc" stroke-width="0.3">10</text><text x="739.1" y="650.3" font-size="15.8" fill="#d1d4dc" text-anchor="middle" font-weight="normal" textLength="16.4" lengthAdjust="spacingAndGlyphs" stroke="#d1d4dc" stroke-width="0.3">17</text><text x="875.7" y="650.3" font-size="15.8" fill="#d1d4dc" text-anchor="middle" font-weight="normal" textLength="16.4" lengthAdjust="spacingAndGlyphs" stroke="#d1d4dc" stroke-width="0.3">24</text><text x="1012.4" y="650.3" font-size="15.8" fill="#d1d4dc" text-anchor="middle" font-weight="bold" textLength="28.7" lengthAdjust="spacingAndGlyphs" stroke="#d1d4dc" stroke-width="0.3">May</text><text x="1149.0" y="650.3" font-size="15.8" fill="#d1d4dc" text-anchor="middle" font-weight="normal" textLength="8.5" lengthAdjust="spacingAndGlyphs" stroke="#d1d4dc" stroke-width="0.3">8</text><text x="1285.7" y="650.3" font-size="15.8" fill="#d1d4dc" text-anchor="middle" font-weight="normal" textLength="16.4" lengthAdjust="spacingAndGlyphs" stroke="#d1d4dc" stroke-width="0.3">15</text><text x="1422.3" y="650.3" font-size="15.8" fill="#d1d4dc" text-anchor="middle" font-weight="normal" textLength="16.4" lengthAdjust="spacingAndGlyphs" stroke="#d1d4dc" stroke-width="0.3">22</text><text x="1617.5" y="650.3" font-size="15.8" fill="#d1d4dc" text-anchor="middle" font-weight="bold" textLength="26.5" lengthAdjust="spacingAndGlyphs" stroke="#d1d4dc" stroke-width="0.3">Jun</text><text x="23.5" y="58.8" font-size="15.3" fill="#d1d4dc" text-anchor="start" font-weight="normal" textLength="232.3" lengthAdjust="spacingAndGlyphs" stroke="#d1d4dc" stroke-width="0.3">Bitcoin / U.S. Dollar, 4h, BITSTAMP</text><text x="265.2" y="58.8" font-size="15.3" fill="#d1d4dc" text-anchor="start" font-weight="normal" textLength="10" lengthAdjust="spacingAndGlyphs" stroke="#d1d4dc" stroke-width="0.3">O</text><text x="276" y="58.8" font-size="15.3" fill="#26a69a" text-anchor="start" font-weight="normal" textLength="39" lengthAdjust="spacingAndGlyphs" stroke="#26a69a" stroke-width="0.3">26362</text><text x="323.8" y="58.8" font-size="15.3" fill="#d1d4dc" text-anchor="start" font-weight="normal" textLength="9.5" lengthAdjust="spacingAndGlyphs" stroke="#d1d4dc" stroke-width="0.3">H</text><text x="334.2" y="58.8" font-size="15.3" fill="#26a69a" text-anchor="start" font-weight="normal" textLength="38.7" lengthAdjust="spacingAndGlyphs" stroke="#26a69a" stroke-width="0.3">26494</text><text x="382.3" y="58.8" font-size="15.3" fill="#d1d4dc" text-anchor="start" font-weight="normal" textLength="7.5" lengthAdjust="spacingAndGlyphs" stroke="#d1d4dc" stroke-width="0.3">L</text><text x="390.3" y="58.8" font-size="15.3" fill="#26a69a" text-anchor="start" font-weight="normal" textLength="38.2" lengthAdjust="spacingAndGlyphs" stroke="#26a69a" stroke-width="0.3">26338</text><text x="437.9" y="58.8" font-size="15.3" fill="#d1d4dc" text-anchor="start" font-weight="normal" textLength="9.4" lengthAdjust="spacingAndGlyphs" stroke="#d1d4dc" stroke-width="0.3">C</text><text x="447.9" y="58.8" font-size="15.3" fill="#26a69a" text-anchor="start" font-weight="normal" textLength="38.1" lengthAdjust="spacingAndGlyphs" stroke="#26a69a" stroke-width="0.3">26399</text><text x="495.9" y="58.8" font-size="15.3" fill="#26a69a" text-anchor="start" font-weight="normal" textLength="83.8" lengthAdjust="spacingAndGlyphs" stroke="#26a69a" stroke-width="0.3">+40 (+0.15%)</text><text x="23.4" y="79.8" font-size="15.3" fill="#d1d4dc" text-anchor="start" font-weight="normal" textLength="162.4" lengthAdjust="spacingAndGlyphs" stroke="#d1d4dc" stroke-width="0.3">RSI Strategy (14, 30, 70)</text><text x="1728.3" y="54.8" font-size="14.4" fill="#d1d4dc" text-anchor="start" font-weight="normal" textLength="25.8" lengthAdjust="spacingAndGlyphs" stroke="#d1d4dc" stroke-width="0.3">USD</text><linearGradient id="og" x1="0" y1="0" x2="0" y2="1"><stop offset="0" stop-color="#4a2c14"/><stop offset="0.2" stop-color="#5c3514"/><stop offset="0.3" stop-color="#7a4a14"/><stop offset="0.4" stop-color="#8c7a28"/><stop offset="0.55" stop-color="#a08020"/><stop offset="0.68" stop-color="#d99010"/><stop offset="0.75" stop-color="#ff9800"/><stop offset="1" stop-color="#ff9800"/></linearGradient><rect x="1716.6" y="64" width="55.4" height="16" rx="1.5" fill="url(#og)"/><rect x="1716" y="59" width="1.2" height="21" fill="#ff9800"/><text x="1726.9" y="75.3" font-size="15.8" fill="#131722" text-anchor="start" font-weight="normal" textLength="38.3" lengthAdjust="spacingAndGlyphs">30000</text><clipPath id="pa"><rect x="1717" y="35" width="83" height="405"/></clipPath><text x="1726.2" y="127.2" font-size="15.8" fill="#d1d4dc" text-anchor="start" font-weight="normal" textLength="39" lengthAdjust="spacingAndGlyphs" stroke="#d1d4dc" stroke-width="0.3" clip-path="url(#pa)">29000</text><text x="1726.2" y="338.5" font-size="15.8" fill="#d1d4dc" text-anchor="start" font-weight="normal" textLength="39" lengthAdjust="spacingAndGlyphs" stroke="#d1d4dc" stroke-width="0.3" clip-path="url(#pa)">25000</text><text x="1726.2" y="444.1" font-size="15.8" fill="#d1d4dc" text-anchor="start" font-weight="normal" textLength="39" lengthAdjust="spacingAndGlyphs" stroke="#d1d4dc" stroke-width="0.3" clip-path="url(#pa)">23000</text><rect x="1716" y="165" width="56" height="20.8" rx="2" fill="#f9bd2d"/><rect x="1716" y="165" width="10" height="20.8" fill="#f9bd2d"/><text x="1726.2" y="180.6" font-size="15.8" fill="#131722" text-anchor="start" font-weight="normal" textLength="38.8" lengthAdjust="spacingAndGlyphs" stroke="#131722" stroke-width="0.3">28000</text><rect x="1716" y="217.1" width="56" height="20.6" rx="2" fill="#0c3299"/><rect x="1716" y="217.1" width="10" height="20.6" fill="#0c3299"/><text x="1726.2" y="233.2" font-size="15.8" fill="#ffffff" text-anchor="start" font-weight="normal" textLength="38.8" lengthAdjust="spacingAndGlyphs" stroke="#ffffff" stroke-width="0.35">27000</text><rect x="1716" y="376.3" width="56" height="20.2" rx="2" fill="#0c3299"/><rect x="1716" y="376.3" width="10" height="20.2" fill="#0c3299"/><text x="1726.2" y="391.9" font-size="15.8" fill="#ffffff" text-anchor="start" font-weight="normal" textLength="38.8" lengthAdjust="spacingAndGlyphs" stroke="#ffffff" stroke-width="0.35">24000</text><rect x="1716" y="249.2" width="74.8" height="38.3" rx="2" fill="#26a69a"/><rect x="1716" y="249.2" width="10" height="38.3" fill="#26a69a"/><text x="1725.8" y="265" font-size="15.8" fill="#ffffff" text-anchor="start" font-weight="normal" textLength="39" lengthAdjust="spacingAndGlyphs" stroke="#ffffff" stroke-width="0.35">26399</text><text x="1725.8" y="283" font-size="15.8" fill="#e4e6ea" text-anchor="start" font-weight="normal" textLength="58.5" lengthAdjust="spacingAndGlyphs" stroke="#e4e6ea" stroke-width="0.3">02:37:59</text><text x="1726.2" y="480.1" font-size="15.8" fill="#d1d4dc" text-anchor="start" font-weight="normal" textLength="36" lengthAdjust="spacingAndGlyphs" stroke="#d1d4dc" stroke-width="0.3">50.00</text><text x="1726.2" y="523.6" font-size="15.8" fill="#d1d4dc" text-anchor="start" font-weight="normal" textLength="34.5" lengthAdjust="spacingAndGlyphs" stroke="#d1d4dc" stroke-width="0.3">200M</text><text x="1726.2" y="572.9" font-size="15.8" fill="#d1d4dc" text-anchor="start" font-weight="normal" textLength="34.5" lengthAdjust="spacingAndGlyphs" stroke="#d1d4dc" stroke-width="0.3">100M</text><text x="1726.2" y="622.1" font-size="15.8" fill="#d1d4dc" text-anchor="start" font-weight="normal" stroke="#d1d4dc" stroke-width="0.3">0</text><path d="M13,678 H22.5 V690 H18 V682.4 H13 Z" fill="#d8dde6"/><circle cx="27" cy="680.4" r="2.6" fill="#d8dde6"/><path d="M32.3,678 H37.3 L33.3,690 H27.1 Z" fill="#d8dde6"/><text x="42.8" y="690.1" font-size="15.8" fill="#d1d4dc" text-anchor="start" font-weight="normal" textLength="86.7" lengthAdjust="spacingAndGlyphs" stroke="#d1d4dc" stroke-width="0.3">TradingView</text></svg></body></html>
